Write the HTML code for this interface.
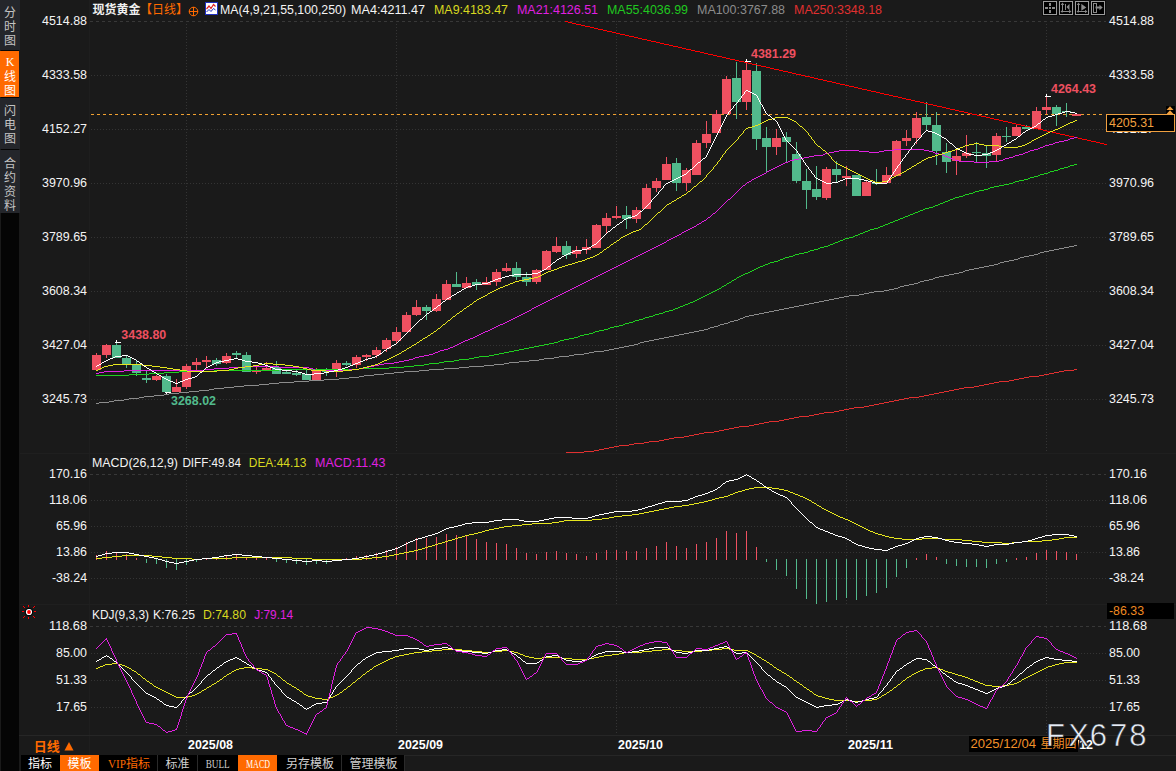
<!DOCTYPE html>
<html><head><meta charset="utf-8"><title>chart</title>
<style>html,body{margin:0;padding:0;background:#1a1a1a;}body{width:1176px;height:771px;overflow:hidden;font-family:"Liberation Sans",sans-serif;}svg{display:block}</style>
</head><body>
<svg width="1176" height="771" viewBox="0 0 1176 771">
<rect x="0" y="0" width="1176" height="771" fill="#1a1a1a"/>
<rect x="1" y="0" width="18" height="771" fill="#050505"/>
<rect x="0" y="0" width="20" height="50" fill="#24262b"/>
<rect x="0" y="51" width="19" height="46" fill="#ff6a00"/>
<rect x="0" y="98" width="20" height="51" fill="#24262b"/>
<rect x="0" y="150" width="20" height="63" fill="#24262b"/>
<text x="4 4 4" y="17.06 31.06 45.06" fill="#c4c4c4" font-size="12" font-family="&quot;Liberation Sans&quot;, &quot;Noto Sans CJK SC&quot;, sans-serif">分时图</text>
<text x="10" y="66" fill="#fff" font-size="12" text-anchor="middle" font-family="Liberation Serif">K</text>
<text x="4 4" y="80.56 94.56" fill="#fff" font-size="12" font-family="&quot;Liberation Sans&quot;, &quot;Noto Sans CJK SC&quot;, sans-serif">线图</text>
<text x="4 4 4" y="114.56 128.56 142.56" fill="#c4c4c4" font-size="12" font-family="&quot;Liberation Sans&quot;, &quot;Noto Sans CJK SC&quot;, sans-serif">闪电图</text>
<text x="4 4 4 4" y="167.56 181.56 195.56 209.56" fill="#c4c4c4" font-size="12" font-family="&quot;Liberation Sans&quot;, &quot;Noto Sans CJK SC&quot;, sans-serif">合约资料</text>
<g shape-rendering="crispEdges">
<rect x="89" y="0" width="1" height="755" fill="#1e1e1e"/>
<rect x="20" y="453" width="1156" height="1" fill="#1f1f1f"/>
<rect x="20" y="604" width="1156" height="1" fill="#1f1f1f"/>
<rect x="19" y="735" width="1157" height="1" fill="#262626"/>
<rect x="405" y="755" width="771" height="1" fill="#262626"/>
<line x1="90" y1="21.5" x2="1106" y2="21.5" stroke="#383838" stroke-width="1" stroke-dasharray="3 3"/>
<line x1="91" y1="75.5" x2="1106" y2="75.5" stroke="#343434" stroke-width="1" stroke-dasharray="1 2"/>
<line x1="91" y1="129.5" x2="1106" y2="129.5" stroke="#343434" stroke-width="1" stroke-dasharray="1 2"/>
<line x1="91" y1="183.5" x2="1106" y2="183.5" stroke="#343434" stroke-width="1" stroke-dasharray="1 2"/>
<line x1="91" y1="237.5" x2="1106" y2="237.5" stroke="#343434" stroke-width="1" stroke-dasharray="1 2"/>
<line x1="91" y1="291.5" x2="1106" y2="291.5" stroke="#343434" stroke-width="1" stroke-dasharray="1 2"/>
<line x1="91" y1="345.5" x2="1106" y2="345.5" stroke="#343434" stroke-width="1" stroke-dasharray="1 2"/>
<line x1="91" y1="399.5" x2="1106" y2="399.5" stroke="#343434" stroke-width="1" stroke-dasharray="1 2"/>
<line x1="90" y1="474.5" x2="1106" y2="474.5" stroke="#383838" stroke-width="1" stroke-dasharray="3 3"/>
<line x1="91" y1="500.5" x2="1106" y2="500.5" stroke="#343434" stroke-width="1" stroke-dasharray="1 2"/>
<line x1="91" y1="526.5" x2="1106" y2="526.5" stroke="#343434" stroke-width="1" stroke-dasharray="1 2"/>
<line x1="91" y1="552.5" x2="1106" y2="552.5" stroke="#343434" stroke-width="1" stroke-dasharray="1 2"/>
<line x1="91" y1="578.5" x2="1106" y2="578.5" stroke="#343434" stroke-width="1" stroke-dasharray="1 2"/>
<line x1="90" y1="626.5" x2="1106" y2="626.5" stroke="#383838" stroke-width="1" stroke-dasharray="3 3"/>
<line x1="91" y1="653.5" x2="1106" y2="653.5" stroke="#343434" stroke-width="1" stroke-dasharray="1 2"/>
<line x1="91" y1="680.5" x2="1106" y2="680.5" stroke="#343434" stroke-width="1" stroke-dasharray="1 2"/>
<line x1="91" y1="707.5" x2="1106" y2="707.5" stroke="#343434" stroke-width="1" stroke-dasharray="1 2"/>
<line x1="186.5" y1="21" x2="186.5" y2="453" stroke="#343434" stroke-width="1" stroke-dasharray="1 2"/>
<line x1="186.5" y1="474" x2="186.5" y2="604" stroke="#343434" stroke-width="1" stroke-dasharray="1 2"/>
<line x1="186.5" y1="627" x2="186.5" y2="735" stroke="#343434" stroke-width="1" stroke-dasharray="1 2"/>
<line x1="396.5" y1="21" x2="396.5" y2="453" stroke="#343434" stroke-width="1" stroke-dasharray="1 2"/>
<line x1="396.5" y1="474" x2="396.5" y2="604" stroke="#343434" stroke-width="1" stroke-dasharray="1 2"/>
<line x1="396.5" y1="627" x2="396.5" y2="735" stroke="#343434" stroke-width="1" stroke-dasharray="1 2"/>
<line x1="616.5" y1="21" x2="616.5" y2="453" stroke="#343434" stroke-width="1" stroke-dasharray="1 2"/>
<line x1="616.5" y1="474" x2="616.5" y2="604" stroke="#343434" stroke-width="1" stroke-dasharray="1 2"/>
<line x1="616.5" y1="627" x2="616.5" y2="735" stroke="#343434" stroke-width="1" stroke-dasharray="1 2"/>
<line x1="846.5" y1="21" x2="846.5" y2="453" stroke="#343434" stroke-width="1" stroke-dasharray="1 2"/>
<line x1="846.5" y1="474" x2="846.5" y2="604" stroke="#343434" stroke-width="1" stroke-dasharray="1 2"/>
<line x1="846.5" y1="627" x2="846.5" y2="735" stroke="#343434" stroke-width="1" stroke-dasharray="1 2"/>
<line x1="1046.5" y1="21" x2="1046.5" y2="453" stroke="#343434" stroke-width="1" stroke-dasharray="1 2"/>
<line x1="1046.5" y1="474" x2="1046.5" y2="604" stroke="#343434" stroke-width="1" stroke-dasharray="1 2"/>
<line x1="1046.5" y1="627" x2="1046.5" y2="735" stroke="#343434" stroke-width="1" stroke-dasharray="1 2"/>
<line x1="91" y1="114.5" x2="1105" y2="114.5" stroke="#f0a030" stroke-width="1" stroke-dasharray="3 3"/>
</g>
<g shape-rendering="crispEdges">
<rect x="96" y="353" width="1" height="17" fill="#ee5060"/>
<rect x="92" y="355" width="9" height="15" fill="#ee5060"/>
<rect x="106" y="344" width="1" height="14" fill="#ee5060"/>
<rect x="102" y="345" width="9" height="10" fill="#ee5060"/>
<rect x="116" y="341" width="1" height="17" fill="#52ba8c"/>
<rect x="112" y="345" width="9" height="13" fill="#52ba8c"/>
<rect x="126" y="356" width="1" height="12" fill="#52ba8c"/>
<rect x="122" y="358" width="9" height="6" fill="#52ba8c"/>
<rect x="136" y="361" width="1" height="15" fill="#52ba8c"/>
<rect x="132" y="364" width="9" height="9" fill="#52ba8c"/>
<rect x="146" y="371" width="1" height="12" fill="#52ba8c"/>
<rect x="142" y="378" width="9" height="2" fill="#52ba8c"/>
<rect x="156" y="375" width="1" height="6" fill="#ee5060"/>
<rect x="152" y="376" width="9" height="4" fill="#ee5060"/>
<rect x="166" y="374" width="1" height="20" fill="#52ba8c"/>
<rect x="162" y="376" width="9" height="16" fill="#52ba8c"/>
<rect x="176" y="379" width="1" height="13" fill="#ee5060"/>
<rect x="172" y="387" width="9" height="5" fill="#ee5060"/>
<rect x="186" y="364" width="1" height="25" fill="#ee5060"/>
<rect x="182" y="366" width="9" height="21" fill="#ee5060"/>
<rect x="196" y="358" width="1" height="12" fill="#ee5060"/>
<rect x="192" y="362" width="9" height="3" fill="#ee5060"/>
<rect x="206" y="356" width="1" height="12" fill="#ee5060"/>
<rect x="202" y="360" width="9" height="2" fill="#ee5060"/>
<rect x="216" y="358" width="1" height="8" fill="#52ba8c"/>
<rect x="212" y="360" width="9" height="4" fill="#52ba8c"/>
<rect x="226" y="353" width="1" height="11" fill="#ee5060"/>
<rect x="222" y="356" width="9" height="7" fill="#ee5060"/>
<rect x="236" y="351" width="1" height="8" fill="#52ba8c"/>
<rect x="232" y="353" width="9" height="2" fill="#52ba8c"/>
<rect x="246" y="352" width="1" height="20" fill="#52ba8c"/>
<rect x="242" y="355" width="9" height="17" fill="#52ba8c"/>
<rect x="256" y="366" width="1" height="8" fill="#ee5060"/>
<rect x="252" y="370" width="9" height="2" fill="#ee5060"/>
<rect x="266" y="362" width="1" height="9" fill="#ee5060"/>
<rect x="262" y="368" width="9" height="2" fill="#ee5060"/>
<rect x="276" y="361" width="1" height="13" fill="#52ba8c"/>
<rect x="272" y="367" width="9" height="7" fill="#52ba8c"/>
<rect x="286" y="371" width="1" height="3" fill="#52ba8c"/>
<rect x="282" y="372" width="9" height="2" fill="#52ba8c"/>
<rect x="296" y="370" width="1" height="6" fill="#52ba8c"/>
<rect x="292" y="373" width="9" height="2" fill="#52ba8c"/>
<rect x="306" y="370" width="1" height="10" fill="#52ba8c"/>
<rect x="302" y="374" width="9" height="6" fill="#52ba8c"/>
<rect x="316" y="368" width="1" height="12" fill="#ee5060"/>
<rect x="312" y="370" width="9" height="10" fill="#ee5060"/>
<rect x="326" y="368" width="1" height="8" fill="#52ba8c"/>
<rect x="322" y="371" width="9" height="1" fill="#52ba8c"/>
<rect x="336" y="360" width="1" height="17" fill="#ee5060"/>
<rect x="332" y="363" width="9" height="9" fill="#ee5060"/>
<rect x="346" y="361" width="1" height="5" fill="#52ba8c"/>
<rect x="342" y="363" width="9" height="2" fill="#52ba8c"/>
<rect x="356" y="355" width="1" height="13" fill="#ee5060"/>
<rect x="352" y="357" width="9" height="8" fill="#ee5060"/>
<rect x="366" y="354" width="1" height="7" fill="#ee5060"/>
<rect x="362" y="355" width="9" height="2" fill="#ee5060"/>
<rect x="376" y="347" width="1" height="11" fill="#ee5060"/>
<rect x="372" y="350" width="9" height="5" fill="#ee5060"/>
<rect x="386" y="338" width="1" height="14" fill="#ee5060"/>
<rect x="382" y="340" width="9" height="9" fill="#ee5060"/>
<rect x="396" y="327" width="1" height="16" fill="#ee5060"/>
<rect x="392" y="332" width="9" height="9" fill="#ee5060"/>
<rect x="406" y="312" width="1" height="20" fill="#ee5060"/>
<rect x="402" y="315" width="9" height="17" fill="#ee5060"/>
<rect x="416" y="300" width="1" height="16" fill="#ee5060"/>
<rect x="412" y="307" width="9" height="8" fill="#ee5060"/>
<rect x="426" y="305" width="1" height="15" fill="#52ba8c"/>
<rect x="422" y="307" width="9" height="4" fill="#52ba8c"/>
<rect x="436" y="294" width="1" height="18" fill="#ee5060"/>
<rect x="432" y="299" width="9" height="12" fill="#ee5060"/>
<rect x="446" y="280" width="1" height="20" fill="#ee5060"/>
<rect x="442" y="284" width="9" height="16" fill="#ee5060"/>
<rect x="456" y="272" width="1" height="15" fill="#52ba8c"/>
<rect x="452" y="284" width="9" height="3" fill="#52ba8c"/>
<rect x="466" y="277" width="1" height="11" fill="#ee5060"/>
<rect x="462" y="283" width="9" height="5" fill="#ee5060"/>
<rect x="476" y="279" width="1" height="11" fill="#52ba8c"/>
<rect x="472" y="282" width="9" height="3" fill="#52ba8c"/>
<rect x="486" y="277" width="1" height="8" fill="#ee5060"/>
<rect x="482" y="282" width="9" height="3" fill="#ee5060"/>
<rect x="496" y="269" width="1" height="17" fill="#ee5060"/>
<rect x="492" y="272" width="9" height="10" fill="#ee5060"/>
<rect x="506" y="263" width="1" height="9" fill="#ee5060"/>
<rect x="502" y="268" width="9" height="3" fill="#ee5060"/>
<rect x="516" y="262" width="1" height="18" fill="#52ba8c"/>
<rect x="512" y="268" width="9" height="9" fill="#52ba8c"/>
<rect x="526" y="272" width="1" height="14" fill="#52ba8c"/>
<rect x="522" y="277" width="9" height="5" fill="#52ba8c"/>
<rect x="536" y="269" width="1" height="15" fill="#ee5060"/>
<rect x="532" y="270" width="9" height="12" fill="#ee5060"/>
<rect x="546" y="250" width="1" height="20" fill="#ee5060"/>
<rect x="542" y="251" width="9" height="19" fill="#ee5060"/>
<rect x="556" y="237" width="1" height="16" fill="#ee5060"/>
<rect x="552" y="246" width="9" height="6" fill="#ee5060"/>
<rect x="566" y="241" width="1" height="18" fill="#52ba8c"/>
<rect x="562" y="246" width="9" height="9" fill="#52ba8c"/>
<rect x="576" y="246" width="1" height="12" fill="#ee5060"/>
<rect x="572" y="250" width="9" height="4" fill="#ee5060"/>
<rect x="586" y="239" width="1" height="15" fill="#ee5060"/>
<rect x="582" y="247" width="9" height="3" fill="#ee5060"/>
<rect x="596" y="224" width="1" height="24" fill="#ee5060"/>
<rect x="592" y="225" width="9" height="23" fill="#ee5060"/>
<rect x="606" y="213" width="1" height="21" fill="#ee5060"/>
<rect x="602" y="218" width="9" height="8" fill="#ee5060"/>
<rect x="616" y="206" width="1" height="13" fill="#ee5060"/>
<rect x="612" y="216" width="9" height="2" fill="#ee5060"/>
<rect x="626" y="206" width="1" height="23" fill="#52ba8c"/>
<rect x="622" y="215" width="9" height="4" fill="#52ba8c"/>
<rect x="636" y="207" width="1" height="16" fill="#ee5060"/>
<rect x="632" y="210" width="9" height="9" fill="#ee5060"/>
<rect x="646" y="184" width="1" height="25" fill="#ee5060"/>
<rect x="642" y="188" width="9" height="21" fill="#ee5060"/>
<rect x="656" y="178" width="1" height="14" fill="#ee5060"/>
<rect x="652" y="181" width="9" height="7" fill="#ee5060"/>
<rect x="666" y="157" width="1" height="23" fill="#ee5060"/>
<rect x="662" y="164" width="9" height="16" fill="#ee5060"/>
<rect x="676" y="158" width="1" height="33" fill="#52ba8c"/>
<rect x="672" y="163" width="9" height="20" fill="#52ba8c"/>
<rect x="686" y="168" width="1" height="23" fill="#ee5060"/>
<rect x="682" y="170" width="9" height="13" fill="#ee5060"/>
<rect x="696" y="140" width="1" height="35" fill="#ee5060"/>
<rect x="692" y="143" width="9" height="32" fill="#ee5060"/>
<rect x="706" y="121" width="1" height="27" fill="#ee5060"/>
<rect x="702" y="134" width="9" height="9" fill="#ee5060"/>
<rect x="716" y="110" width="1" height="23" fill="#ee5060"/>
<rect x="712" y="114" width="9" height="19" fill="#ee5060"/>
<rect x="726" y="76" width="1" height="38" fill="#ee5060"/>
<rect x="722" y="79" width="9" height="35" fill="#ee5060"/>
<rect x="736" y="62" width="1" height="57" fill="#52ba8c"/>
<rect x="732" y="78" width="9" height="24" fill="#52ba8c"/>
<rect x="746" y="59" width="1" height="51" fill="#ee5060"/>
<rect x="742" y="70" width="9" height="32" fill="#ee5060"/>
<rect x="756" y="63" width="1" height="87" fill="#52ba8c"/>
<rect x="752" y="71" width="9" height="68" fill="#52ba8c"/>
<rect x="766" y="127" width="1" height="45" fill="#52ba8c"/>
<rect x="762" y="138" width="9" height="9" fill="#52ba8c"/>
<rect x="776" y="129" width="1" height="26" fill="#ee5060"/>
<rect x="772" y="138" width="9" height="9" fill="#ee5060"/>
<rect x="786" y="132" width="1" height="30" fill="#52ba8c"/>
<rect x="782" y="137" width="9" height="5" fill="#52ba8c"/>
<rect x="796" y="142" width="1" height="41" fill="#52ba8c"/>
<rect x="792" y="154" width="9" height="27" fill="#52ba8c"/>
<rect x="806" y="169" width="1" height="40" fill="#52ba8c"/>
<rect x="802" y="181" width="9" height="9" fill="#52ba8c"/>
<rect x="816" y="166" width="1" height="34" fill="#52ba8c"/>
<rect x="812" y="189" width="9" height="8" fill="#52ba8c"/>
<rect x="826" y="167" width="1" height="33" fill="#ee5060"/>
<rect x="822" y="169" width="9" height="29" fill="#ee5060"/>
<rect x="836" y="161" width="1" height="21" fill="#52ba8c"/>
<rect x="832" y="169" width="9" height="6" fill="#52ba8c"/>
<rect x="846" y="166" width="1" height="20" fill="#ee5060"/>
<rect x="842" y="176" width="9" height="2" fill="#ee5060"/>
<rect x="856" y="175" width="1" height="21" fill="#52ba8c"/>
<rect x="852" y="175" width="9" height="21" fill="#52ba8c"/>
<rect x="866" y="180" width="1" height="16" fill="#ee5060"/>
<rect x="862" y="182" width="9" height="14" fill="#ee5060"/>
<rect x="876" y="169" width="1" height="16" fill="#52ba8c"/>
<rect x="872" y="182" width="9" height="2" fill="#52ba8c"/>
<rect x="886" y="167" width="1" height="16" fill="#ee5060"/>
<rect x="882" y="175" width="9" height="8" fill="#ee5060"/>
<rect x="896" y="140" width="1" height="36" fill="#ee5060"/>
<rect x="892" y="141" width="9" height="35" fill="#ee5060"/>
<rect x="906" y="130" width="1" height="16" fill="#ee5060"/>
<rect x="902" y="138" width="9" height="3" fill="#ee5060"/>
<rect x="916" y="112" width="1" height="32" fill="#ee5060"/>
<rect x="912" y="118" width="9" height="20" fill="#ee5060"/>
<rect x="926" y="102" width="1" height="29" fill="#52ba8c"/>
<rect x="922" y="117" width="9" height="8" fill="#52ba8c"/>
<rect x="936" y="112" width="1" height="53" fill="#52ba8c"/>
<rect x="932" y="125" width="9" height="26" fill="#52ba8c"/>
<rect x="946" y="143" width="1" height="30" fill="#52ba8c"/>
<rect x="942" y="152" width="9" height="10" fill="#52ba8c"/>
<rect x="956" y="150" width="1" height="25" fill="#ee5060"/>
<rect x="952" y="156" width="9" height="5" fill="#ee5060"/>
<rect x="966" y="135" width="1" height="23" fill="#ee5060"/>
<rect x="962" y="153" width="9" height="3" fill="#ee5060"/>
<rect x="976" y="142" width="1" height="21" fill="#52ba8c"/>
<rect x="972" y="152" width="9" height="1" fill="#52ba8c"/>
<rect x="986" y="146" width="1" height="22" fill="#52ba8c"/>
<rect x="982" y="153" width="9" height="3" fill="#52ba8c"/>
<rect x="996" y="133" width="1" height="29" fill="#ee5060"/>
<rect x="992" y="136" width="9" height="19" fill="#ee5060"/>
<rect x="1006" y="127" width="1" height="15" fill="#52ba8c"/>
<rect x="1002" y="136" width="9" height="1" fill="#52ba8c"/>
<rect x="1016" y="124" width="1" height="12" fill="#ee5060"/>
<rect x="1012" y="127" width="9" height="9" fill="#ee5060"/>
<rect x="1026" y="125" width="1" height="4" fill="#52ba8c"/>
<rect x="1022" y="127" width="9" height="2" fill="#52ba8c"/>
<rect x="1036" y="107" width="1" height="22" fill="#ee5060"/>
<rect x="1032" y="111" width="9" height="18" fill="#ee5060"/>
<rect x="1046" y="94" width="1" height="20" fill="#ee5060"/>
<rect x="1042" y="107" width="9" height="3" fill="#ee5060"/>
<rect x="1056" y="105" width="1" height="21" fill="#52ba8c"/>
<rect x="1052" y="107" width="9" height="7" fill="#52ba8c"/>
<rect x="1066" y="103" width="1" height="14" fill="#52ba8c"/>
<rect x="1062" y="111" width="9" height="1" fill="#52ba8c"/>
<rect x="1076" y="114" width="1" height="2" fill="#ee5060"/>
<rect x="1072" y="114" width="9" height="2" fill="#ee5060"/>
<rect x="116" y="340" width="1" height="3" fill="#fff"/>
<rect x="115" y="342" width="6" height="1" fill="#fff"/>
<rect x="166" y="392" width="1" height="3" fill="#fff"/>
<rect x="165" y="392" width="6" height="1" fill="#fff"/>
<rect x="746" y="59" width="1" height="3" fill="#fff"/>
<rect x="745" y="61" width="6" height="1" fill="#fff"/>
<rect x="1046" y="94" width="1" height="3" fill="#fff"/>
<rect x="1045" y="96" width="6" height="1" fill="#fff"/>
<rect x="96" y="555" width="1" height="5" fill="#ee5060"/>
<rect x="106" y="551" width="1" height="9" fill="#ee5060"/>
<rect x="116" y="552" width="1" height="8" fill="#ee5060"/>
<rect x="126" y="554" width="1" height="6" fill="#ee5060"/>
<rect x="136" y="558" width="1" height="2" fill="#ee5060"/>
<rect x="146" y="559" width="1" height="4" fill="#52ba8c"/>
<rect x="156" y="559" width="1" height="5" fill="#52ba8c"/>
<rect x="166" y="559" width="1" height="9" fill="#52ba8c"/>
<rect x="176" y="559" width="1" height="11" fill="#52ba8c"/>
<rect x="186" y="559" width="1" height="6" fill="#52ba8c"/>
<rect x="196" y="559" width="1" height="3" fill="#52ba8c"/>
<rect x="206" y="558" width="1" height="2" fill="#ee5060"/>
<rect x="216" y="557" width="1" height="3" fill="#ee5060"/>
<rect x="226" y="555" width="1" height="5" fill="#ee5060"/>
<rect x="236" y="554" width="1" height="6" fill="#ee5060"/>
<rect x="246" y="557" width="1" height="3" fill="#ee5060"/>
<rect x="256" y="558" width="1" height="2" fill="#ee5060"/>
<rect x="266" y="558" width="1" height="2" fill="#ee5060"/>
<rect x="276" y="559" width="1" height="3" fill="#52ba8c"/>
<rect x="286" y="559" width="1" height="4" fill="#52ba8c"/>
<rect x="296" y="559" width="1" height="5" fill="#52ba8c"/>
<rect x="306" y="559" width="1" height="6" fill="#52ba8c"/>
<rect x="316" y="559" width="1" height="5" fill="#52ba8c"/>
<rect x="326" y="559" width="1" height="5" fill="#52ba8c"/>
<rect x="336" y="559" width="1" height="2" fill="#52ba8c"/>
<rect x="346" y="558" width="1" height="2" fill="#ee5060"/>
<rect x="356" y="556" width="1" height="4" fill="#ee5060"/>
<rect x="366" y="555" width="1" height="5" fill="#ee5060"/>
<rect x="376" y="553" width="1" height="7" fill="#ee5060"/>
<rect x="386" y="550" width="1" height="10" fill="#ee5060"/>
<rect x="396" y="547" width="1" height="13" fill="#ee5060"/>
<rect x="406" y="542" width="1" height="18" fill="#ee5060"/>
<rect x="416" y="538" width="1" height="22" fill="#ee5060"/>
<rect x="426" y="538" width="1" height="22" fill="#ee5060"/>
<rect x="436" y="537" width="1" height="23" fill="#ee5060"/>
<rect x="446" y="534" width="1" height="26" fill="#ee5060"/>
<rect x="456" y="535" width="1" height="25" fill="#ee5060"/>
<rect x="466" y="536" width="1" height="24" fill="#ee5060"/>
<rect x="476" y="539" width="1" height="21" fill="#ee5060"/>
<rect x="486" y="542" width="1" height="18" fill="#ee5060"/>
<rect x="496" y="543" width="1" height="17" fill="#ee5060"/>
<rect x="506" y="544" width="1" height="16" fill="#ee5060"/>
<rect x="516" y="548" width="1" height="12" fill="#ee5060"/>
<rect x="526" y="553" width="1" height="7" fill="#ee5060"/>
<rect x="536" y="554" width="1" height="6" fill="#ee5060"/>
<rect x="546" y="552" width="1" height="8" fill="#ee5060"/>
<rect x="556" y="551" width="1" height="9" fill="#ee5060"/>
<rect x="566" y="553" width="1" height="7" fill="#ee5060"/>
<rect x="576" y="554" width="1" height="6" fill="#ee5060"/>
<rect x="586" y="556" width="1" height="4" fill="#ee5060"/>
<rect x="596" y="553" width="1" height="7" fill="#ee5060"/>
<rect x="606" y="550" width="1" height="10" fill="#ee5060"/>
<rect x="616" y="550" width="1" height="10" fill="#ee5060"/>
<rect x="626" y="551" width="1" height="9" fill="#ee5060"/>
<rect x="636" y="551" width="1" height="9" fill="#ee5060"/>
<rect x="646" y="548" width="1" height="12" fill="#ee5060"/>
<rect x="656" y="546" width="1" height="14" fill="#ee5060"/>
<rect x="666" y="542" width="1" height="18" fill="#ee5060"/>
<rect x="676" y="546" width="1" height="14" fill="#ee5060"/>
<rect x="686" y="548" width="1" height="12" fill="#ee5060"/>
<rect x="696" y="544" width="1" height="16" fill="#ee5060"/>
<rect x="706" y="542" width="1" height="18" fill="#ee5060"/>
<rect x="716" y="538" width="1" height="22" fill="#ee5060"/>
<rect x="726" y="531" width="1" height="29" fill="#ee5060"/>
<rect x="736" y="533" width="1" height="27" fill="#ee5060"/>
<rect x="746" y="531" width="1" height="29" fill="#ee5060"/>
<rect x="756" y="547" width="1" height="13" fill="#ee5060"/>
<rect x="766" y="559" width="1" height="3" fill="#52ba8c"/>
<rect x="776" y="559" width="1" height="11" fill="#52ba8c"/>
<rect x="786" y="559" width="1" height="17" fill="#52ba8c"/>
<rect x="796" y="559" width="1" height="30" fill="#52ba8c"/>
<rect x="806" y="559" width="1" height="40" fill="#52ba8c"/>
<rect x="816" y="559" width="1" height="45" fill="#52ba8c"/>
<rect x="826" y="559" width="1" height="43" fill="#52ba8c"/>
<rect x="836" y="559" width="1" height="41" fill="#52ba8c"/>
<rect x="846" y="559" width="1" height="39" fill="#52ba8c"/>
<rect x="856" y="559" width="1" height="41" fill="#52ba8c"/>
<rect x="866" y="559" width="1" height="37" fill="#52ba8c"/>
<rect x="876" y="559" width="1" height="34" fill="#52ba8c"/>
<rect x="886" y="559" width="1" height="29" fill="#52ba8c"/>
<rect x="896" y="559" width="1" height="18" fill="#52ba8c"/>
<rect x="906" y="559" width="1" height="9" fill="#52ba8c"/>
<rect x="916" y="558" width="1" height="2" fill="#ee5060"/>
<rect x="926" y="554" width="1" height="6" fill="#ee5060"/>
<rect x="936" y="557" width="1" height="3" fill="#ee5060"/>
<rect x="946" y="559" width="1" height="5" fill="#52ba8c"/>
<rect x="956" y="559" width="1" height="7" fill="#52ba8c"/>
<rect x="966" y="559" width="1" height="8" fill="#52ba8c"/>
<rect x="976" y="559" width="1" height="8" fill="#52ba8c"/>
<rect x="986" y="559" width="1" height="9" fill="#52ba8c"/>
<rect x="996" y="559" width="1" height="5" fill="#52ba8c"/>
<rect x="1006" y="559" width="1" height="3" fill="#52ba8c"/>
<rect x="1016" y="558" width="1" height="2" fill="#ee5060"/>
<rect x="1026" y="557" width="1" height="3" fill="#ee5060"/>
<rect x="1036" y="553" width="1" height="7" fill="#ee5060"/>
<rect x="1046" y="550" width="1" height="10" fill="#ee5060"/>
<rect x="1056" y="551" width="1" height="9" fill="#ee5060"/>
<rect x="1066" y="552" width="1" height="8" fill="#ee5060"/>
<rect x="1076" y="554" width="1" height="6" fill="#ee5060"/>
</g>
<g stroke="#ff0000" stroke-width="1" fill="none" shape-rendering="crispEdges">
<path transform="translate(0,.5)" d="m565 21h3m0 1h4m0 1h4m0 1h5m0 1h4m0 1h5m0 1h4m0 1h4m0 1h5m0 1h4m0 1h5m0 1h4m0 1h4m0 1h5m0 1h4m0 1h5m0 1h4m0 1h4m0 1h5m0 1h4m0 1h5m0 1h4m0 1h4m0 1h5m0 1h4m0 1h5m0 1h4m0 1h4m0 1h5m0 1h4m0 1h5m0 1h4m0 1h4m0 1h5m0 1h4m0 1h5m0 1h4m0 1h4m0 1h5m0 1h4m0 1h5m0 1h4m0 1h4m0 1h5m0 1h4m0 1h5m0 1h4m0 1h4m0 1h5m0 1h4m0 1h5m0 1h4m0 1h4m0 1h5m0 1h4m0 1h5m0 1h4m0 1h4m0 1h5m0 1h4m0 1h5m0 1h4m0 1h4m0 1h5m0 1h4m0 1h5m0 1h4m0 1h4m0 1h5m0 1h4m0 1h5m0 1h4m0 1h4m0 1h5m0 1h4m0 1h5m0 1h4m0 1h4m0 1h5m0 1h4m0 1h5m0 1h4m0 1h4m0 1h5m0 1h4m0 1h5m0 1h4m0 1h4m0 1h5m0 1h4m0 1h5m0 1h4m0 1h4m0 1h5m0 1h4m0 1h5m0 1h4m0 1h4m0 1h5m0 1h4m0 1h5m0 1h4m0 1h4m0 1h5m0 1h4m0 1h5m0 1h4m0 1h4m0 1h5m0 1h4m0 1h5m0 1h4m0 1h4m0 1h5m0 1h4m0 1h5m0 1h4m0 1h4m0 1h5m0 1h4m0 1h5m0 1h4m0 1h4m0 1h3"/>
</g>
<g stroke="#e03030" stroke-width="1" fill="none" shape-rendering="crispEdges">
<path transform="translate(0,.5)" d="m566 452h18m0-1h10m0-1h5m0-1h5m0-1h5m0-1h5m0-1h5m0-1h10m0-1h5m0-1h10m0-1h5m0-1h10m0-1h5m0-1h5m0-1h5m0-1h10m0-1h5m0-1h5m0-1h5m0-1h5m0-1h10m0-1h5m0-1h5m0-1h5m0-1h5m0-1h5m0-1h10m0-1h5m0-1h5m0-1h5m0-1h5m0-1h10m0-1h5m0-1h5m0-1h5m0-1h5m0-1h10m0-1h5m0-1h5m0-1h5m0-1h10m0-1h5m0-1h5m0-1h5m0-1h5m0-1h10m0-1h5m0-1h5m0-1h5m0-1h5m0-1h5m0-1h5m0-1h5m0-1h5m0-1h5m0-1h10m0-1h5m0-1h5m0-1h5m0-1h5m0-1h5m0-1h5m0-1h5m0-1h5m0-1h5m0-1h10m0-1h5m0-1h5m0-1h5m0-1h5m0-1h5m0-1h10m0-1h5m0-1h5m0-1h5m0-1h5m0-1h10m0-1h5m0-1h5m0-1h5m0-1h5m0-1h5m0-1h10m0-1h3"/>
</g>
<g stroke="#8c8c8c" stroke-width="1" fill="none" shape-rendering="crispEdges">
<path transform="translate(0,.5)" d="m96 403h3m0-1h10m0-1h5m0-1h10m0-1h5m0-1h10m0-1h5m0-1h10m0-1h10m0-1h5m0-1h10m0-1h10m0-1h10m0-1h10m0-1h5m0-1h10m0-1h10m0-1h10m0-1h15m0-1h10m0-1h10m0-1h15m0-1h15m0-1h15m0-1h15m0-1h10m0-1h10m0-1h5m0-1h10m0-1h10m0-1h10m0-1h10m0-1h15m0-1h10m0-1h15m0-1h15m0-1h10m0-1h15m0-1h10m0-1h10m0-1h5m0-1h10m0-1h10m0-1h10m0-1h5m0-1h10m0-1h5m0-1h10m0-1h5m0-1h10m0-1h5m0-1h5m0-1h10m0-1h5m0-1h5m0-1h5m0-1h5m0-1h5m0-1h5m0-1h4m0-1h2m0-1h4m0-1h5m0-1h5m0-1h5m0-1h5m0-1h5m0-1h5m0-1h5m0-1h5m0-1h5m0-1h5m0-1h5m0-1h5m0-1h4m0-1h2m0-1h4m0-1h4m0-1h2m0-1h4m0-1h4m0-1h2m0-1h4m0-1h4m0-1h2m0-1h3m0-1h2m0-1h4m0-1h5m0-1h5m0-1h5m0-1h5m0-1h5m0-1h5m0-1h5m0-1h5m0-1h5m0-1h5m0-1h5m0-1h5m0-1h5m0-1h5m0-1h5m0-1h5m0-1h5m0-1h5m0-1h5m0-1h5m0-1h10m0-1h5m0-1h5m0-1h5m0-1h10m0-1h5m0-1h5m0-1h4m0-1h2m0-1h4m0-1h5m0-1h5m0-1h4m0-1h2m0-1h4m0-1h5m0-1h4m0-1h2m0-1h4m0-1h5m0-1h5m0-1h5m0-1h5m0-1h4m0-1h2m0-1h4m0-1h5m0-1h5m0-1h5m0-1h5m0-1h5m0-1h4m0-1h2m0-1h4m0-1h5m0-1h5m0-1h4m0-1h2m0-1h4m0-1h5m0-1h5m0-1h4m0-1h2m0-1h4m0-1h5m0-1h5m0-1h5m0-1h5m0-1h5m0-1h5m0-1h3"/>
</g>
<g stroke="#20d020" stroke-width="1" fill="none" shape-rendering="crispEdges">
<path transform="translate(0,.5)" d="m96 375h33m0-1h20m0-1h15m0-1h15m0-1h35m0-1h65m0-1h80m0-1h30m0-1h15m0-1h10m0-1h10m0-1h5m0-1h10m0-1h5m0-1h10m0-1h5m0-1h10m0-1h5m0-1h5m0-1h10m0-1h5m0-1h5m0-1h5m0-1h5m0-1h5m0-1h5m0-1h5m0-1h5m0-1h5m0-1h5m0-1h5m0-1h5m0-1h5m0-1h4m0-1h2m0-1h4m0-1h5m0-1h5m0-1h4m0-1h2m0-1h4m0-1h5m0-1h4m0-1h2m0-1h4m0-1h5m0-1h4m0-1h2m0-1h4m0-1h5m0-1h4m0-1h2m0-1h4m0-1h4m0-1h2m0-1h4m0-1h4m0-1h2m0-1h4m0-1h4m0-1h2m0-1h4m0-1h4m0-1h2m0-1h4m0-1h4m0-1h2m0-1h3m0-1h2m0-1h3m0-1h2m0-1h3m0-1h2m0-1h3m0-1h2m0-1h2m0-1h2m0-1h2m0-1h2m0-1h2m0-1h2m0-1h2m0-1h2m0-1h2m0-1h2m0-1h2m0-1h2m0-1h2m1-2h2m0-1h2m1-2h2m0-1h2m1-2h2m0-1h2m1-2h2m0-1h2m0-1h2m0-1h2m0-1h3m0-1h2m0-1h2m0-1h2m0-1h2m0-1h2m0-1h2m0-1h3m0-1h2m0-1h3m0-1h2m0-1h4m0-1h4m0-1h2m0-1h3m0-1h2m0-1h4m0-1h4m0-1h2m0-1h4m0-1h5m0-1h4m0-1h2m0-1h4m0-1h4m0-1h2m0-1h4m0-1h4m0-1h2m0-1h3m0-1h2m0-1h3m0-1h2m0-1h3m0-1h2m0-1h4m0-1h4m0-1h2m0-1h3m0-1h2m0-1h3m0-1h2m0-1h3m0-1h2m0-1h4m0-1h4m0-1h2m0-1h3m0-1h2m0-1h3m0-1h2m0-1h3m0-1h2m0-1h3m0-1h2m0-1h3m0-1h2m0-1h3m0-1h2m0-1h3m0-1h2m0-1h3m0-1h2m0-1h3m0-1h2m0-1h4m0-1h4m0-1h2m0-1h3m0-1h2m0-1h3m0-1h2m0-1h3m0-1h2m0-1h3m0-1h2m0-1h4m0-1h4m0-1h2m0-1h4m0-1h4m0-1h2m0-1h4m0-1h5m0-1h4m0-1h2m0-1h4m0-1h5m0-1h5m0-1h5m0-1h4m0-1h2m0-1h4m0-1h5m0-1h4m0-1h2m0-1h4m0-1h4m0-1h2m0-1h4m0-1h4m0-1h2m0-1h4m0-1h4m0-1h2m0-1h4m0-1h4m0-1h2m0-1h4m0-1h3"/>
<path transform="translate(.5,0)" d="m721 287v1m5-4v1m5-4v1m5-4v1"/>
</g>
<g stroke="#e020e0" stroke-width="1" fill="none" shape-rendering="crispEdges">
<path transform="translate(0,.5)" d="m96 373h3m0-1h5m0-1h20m0-1h80m0-1h10m0-1h15m0-1h15m0-1h35m0 1h30m0 1h4m0 1h2m0 1h34m0-1h10m0-1h5m0-1h5m0-1h5m0-1h5m0-1h5m0-1h10m0-1h5m0-1h5m0-1h5m0-1h4m0-1h2m0-1h4m0-1h5m0-1h5m0-1h4m0-1h2m0-1h3m0-1h2m0-1h4m0-1h4m0-1h2m0-1h3m0-1h2m0-1h2m0-1h2m0-1h2m0-1h2m0-1h2m0-1h3m0-1h2m0-1h3m0-1h2m0-1h2m0-1h2m0-1h2m0-1h2m0-1h2m0-1h3m0-1h2m0-1h2m0-1h2m0-1h2m0-1h2m0-1h2m0-1h3m0-1h2m0-1h2m0-1h2m0-1h2m0-1h2m0-1h2m0-1h2m0-1h2m0-1h2m0-1h2m0-1h2m0-1h2m0-1h2m0-1h2m1-2h2m0-1h2m0-1h2m0-1h2m0-1h2m0-1h2m0-1h2m0-1h2m0-1h2m0-1h2m0-1h2m0-1h2m0-1h2m0-1h2m0-1h2m0-1h2m0-1h2m0-1h2m0-1h2m0-1h2m0-1h2m0-1h2m0-1h2m0-1h2m0-1h2m0-1h2m0-1h2m0-1h2m0-1h2m0-1h2m0-1h2m0-1h2m0-1h2m0-1h2m0-1h2m0-1h2m0-1h2m0-1h2m0-1h2m0-1h2m0-1h2m0-1h2m0-1h2m0-1h2m0-1h2m0-1h2m0-1h2m0-1h2m0-1h2m0-1h2m0-1h2m0-1h2m0-1h2m0-1h2m0-1h2m0-1h2m0-1h2m0-1h2m0-1h2m0-1h2m0-1h2m0-1h2m0-1h2m0-1h2m0-1h2m0-1h2m0-1h2m1-2h2m0-1h2m0-1h2m0-1h2m0-1h2m0-1h2m0-1h2m1-2h2m0-1h2m0-1h2m0-1h2m0-1h2m0-1h2m0-1h2m1-2h2m0-1h2m1-2h2m0-1h2m2-3h2m3-4h2m13-14h2m13-14h2m2-3h2m0-1h2m1-2h2m0-1h2m0-1h2m0-1h2m0-1h2m0-1h2m0-1h2m1-2h2m0-1h2m0-1h2m0-1h2m0-1h2m0-1h2m0-1h2m0-1h2m0-1h2m0-1h3m0-1h2m0-1h4m0-1h5m0-1h5m0-1h5m0-1h5m0-1h9m0-1h2m0-1h4m0-1h5m0-1h5m0-1h20m0 1h10m0 1h10m0-1h5m0-1h10m0-1h30m0 1h5m0 1h4m0 1h2m0 1h4m0 1h4m0 1h2m0 1h3m0 1h2m0 1h3m0 1h2m0 1h4m0 1h15m0 1h15m0-1h10m0-1h4m0-1h2m0-1h4m0-1h4m0-1h2m0-1h4m0-1h4m0-1h2m0-1h3m0-1h2m0-1h4m0-1h4m0-1h2m0-1h3m0-1h2m0-1h4m0-1h4m0-1h2m0-1h4m0-1h5m0-1h4m0-1h2m0-1h4m0-1h3"/>
<path transform="translate(.5,0)" d="m531 309v1m135-69v1m15-9v1m15-9v1m5-4v1m5-4v1m1-2v1m3-3v1m1-2v1m1-2v1m3-3v1m1-2v1m1-2v1m1-2v1m1-2v1m1-2v1m1-2v1m1-2v1m1-2v1m1-2v1m1-2v1m1-2v1m1-2v1m3-3v1m1-2v1m1-2v1m1-2v1m1-2v1m1-2v1m1-2v1m1-2v1m1-2v1m1-2v1m1-2v1m1-2v1m1-2v1m3-3v1m1-2v1m5-4v1m15-9v1"/>
</g>
<g stroke="#e6e61e" stroke-width="1" fill="none" shape-rendering="crispEdges">
<path transform="translate(0,.5)" d="m96 370h2m0-1h2m0-1h2m0-1h2m0-1h4m0-1h5m0-1h29m0 1h10m0 1h8m0 1h7m0 1h6m0 1h7m0 1h7m0 1h30m0-1h12m0-1h5m0-1h4m0-1h7m0-1h8m0-1h6m0-1h5m0-1h9m0 1h12m0 1h8m0 1h6m0 1h4m0 1h4m0 1h4m0 1h15m0 1h17m0-1h9m0-1h7m0-1h4m0-1h4m0-1h4m0-1h4m0-1h3m0-1h2m0-1h2m0-1h2m0-1h3m0-1h2m0-1h2m0-1h2m0-1h2m0-1h2m0-1h2m0-1h2m1-2h2m0-1h2m1-2h2m0-1h2m1-2h2m0-1h2m1-2h2m1-2h2m1-2h2m0-1h2m1-2h2m1-2h2m1-2h2m2-3h2m3-4h2m3-4h2m3-4h2m2-3h2m1-2h2m2-3h2m1-2h2m1-2h2m2-3h2m1-2h2m0-1h2m0-1h2m0-1h2m0-1h2m1-2h2m0-1h2m0-1h2m0-1h2m0-1h2m0-1h2m0-1h3m0-1h2m0-1h3m0-1h2m0-1h3m0-1h2m0-1h4m0-1h5m0-1h5m0-1h5m0-1h4m0-1h2m0-1h2m0-1h2m0-1h2m0-1h2m0-1h3m0-1h3m0-1h3m0-1h2m0-1h3m0-1h3m0-1h3m0-1h4m0-1h3m0-1h3m0-1h4m0-1h3m0-1h2m0-1h3m0-1h3m0-1h2m0-1h2m0-1h2m1-2h2m2-3h2m1-2h2m2-3h2m1-2h2m1-2h2m2-3h2m0-1h2m0-1h2m0-1h2m0-1h2m0-1h2m0-1h3m0-1h3m0-1h2m4-5h2m11-12h2m7-8h2m0-1h2m1-2h2m0-1h2m1-2h2m0-1h2m1-2h2m0-1h2m2-3h2m4-5h2m4-5h2m44-53h2m0-1h4m0-1h3m0-1h3m0-1h2m0-1h2m0-1h2m0-1h2m0-1h2m0-1h4m0-1h3m0-1h13m0 1h2m0 1h2m0 1h2m0 1h2m4 5h2m16 20h2m3 4h2m11 13h2m0 1h2m0 1h2m0 1h2m0 1h2m0 1h2m0 1h2m0 1h2m0 1h2m0 1h2m0 1h2m0 1h2m0 1h2m0 1h2m0 1h2m0 1h2m0 1h2m0 1h3m0 1h2m0 1h7m0-1h5m0-1h2m0-1h2m1-2h2m0-1h2m0-1h2m0-1h2m0-1h2m0-1h2m0-1h2m1-2h2m0-1h2m1-2h2m0-1h2m1-2h2m0-1h2m1-2h2m0-1h2m0-1h2m0-1h4m0-1h3m0-1h3m0-1h4m0-1h3m0-1h3m0-1h4m0-1h3m0-1h3m0-1h2m0-1h3m0-1h2m0-1h4m0-1h5m0-1h5m0 1h5m0 1h15m0 1h5m0 1h14m0-1h4m0-1h3m0-1h2m0-1h2m0-1h2m1-2h2m0-1h2m0-1h2m0-1h2m0-1h2m0-1h2m0-1h2m0-1h2m0-1h2m0-1h3m0-1h2m0-1h3m0-1h2m0-1h2m0-1h2m0-1h2m0-1h2m0-1h2m0-1h3m0-1h2m0-1h2"/>
<path transform="translate(.5,0)" d="m401 352v1m5-4v1m5-4v1m5-4v1m3-3v1m3-3v1m5-4v1m3-3v1m3-3v1m3-3v1m1-2v1m3-3v1m1-2v1m1-2v1m3-3v1m1-2v1m1-2v1m3-3v1m1-2v1m1-2v1m3-3v1m1-2v1m3-3v1m3-3v1m1-2v1m3-3v1m3-3v1m3-3v1m1-2v1m3-3v1m11-7v1m112-42v1m3-3v1m1-2v1m3-3v1m3-3v1m1-2v1m3-3v1m3-3v1m3-3v1m1-2v1m21-11v1m1-2v1m1-2v1m1-2v1m3-3v1m1-2v1m1-2v1m1-2v1m1-2v1m1-2v1m1-2v1m1-2v1m1-2v1m1-2v1m1-2v1m3-3v1m1-2v1m1-2v1m1-2v1m1-2v1m1-2v1m1-2v1m5-4v1m5-4v1m5-4v1m5-4v1m1-2v1m3-3v1m1-2v1m1-2v1m1-2v1m3-3v1m1-2v1m1-2v1m1-2v1m3-3v1m1-2v1m1-2v1m1-2v1m1-3v2m1-3v1m1-2v1m1-2v1m1-2v1m1-2v1m1-2v1m1-3v2m1-3v1m1-2v1m1-2v1m1-3v2m1-3v1m1-2v1m1-3v2m1-3v1m1-3v2m1-3v1m1-2v1m1-3v2m1-3v1m1-2v1m1-2v1m1-2v1m1-2v1m1-2v1m1-2v1m1-2v1m1-2v1m1-2v1m1-2v1m1-2v1m1-3v2m1-3v1m1-2v1m1-2v1m1-2v1m1-3v2m1-3v1m1-2v1m51-8v1m1 0v1m1 0v1m1 0v1m3 1v1m1 0v1m1 0v1m1 0v1m1 0v1m1 0v1m1 0v2m1 0v1m1 0v1m1 0v2m1 0v1m1 0v1m1 0v2m1 0v1m1 0v1m1 0v1m3 1v1m1 0v1m1 0v1m3 1v1m1 0v1m1 0v1m1 0v1m1 0v1m1 0v1m1 0v2m1 0v1m1 0v1m1 0v1m1 0v1m56 15v1m15-9v1m5-4v1m5-4v1m5-4v1m110-21v1"/>
</g>
<g stroke="#ffffff" stroke-width="1" fill="none" shape-rendering="crispEdges">
<path transform="translate(0,.5)" d="m97 365h2m0-1h2m1-2h2m0-1h2m0-1h2m0-1h2m0-1h3m0-1h2m0-1h7m0-1h6m0 1h2m0 1h2m0 1h2m0 1h2m1 2h2m1 2h2m2 3h2m1 2h2m0 1h2m1 2h2m0 1h2m1 2h2m0 1h2m1 2h2m0 1h2m0 1h2m0 1h2m0 1h3m0 1h2m0 1h3m0-1h2m0-1h3m0-1h2m0-1h3m0-1h4m0-1h3m0-1h2m3-4h2m4-5h2m0-1h2m0-1h2m0-1h2m0-1h2m0-1h3m0-1h5m0-1h5m0-1h5m0-1h4m0 1h4m0 1h3m0 1h7m0 1h6m0 1h4m0 1h3m0 1h3m0 1h2m0 1h3m0 1h2m0 1h7m0 1h10m0 1h6m0 1h4m0 1h3m0 1h9m0-1h10m0-1h5m0-1h5m0-1h4m0-1h4m0-1h3m0-1h3m0-1h2m0-1h3m0-1h2m0-1h3m0-1h2m0-1h3m0-1h2m0-1h3m0-1h4m0-1h3m0-1h2m0-1h2m1-2h2m2-3h2m1-2h2m0-1h2m1-2h2m0-1h2m24-25h2m5-6h2m1-2h2m2-3h2m2-3h2m3-4h2m2-3h2m0-1h2m1-2h2m0-1h2m1-2h2m0-1h2m1-2h2m0-1h2m0-1h2m0-1h4m0-1h3m0-1h7m0-1h6m0-1h2m0-1h3m0-1h2m0-1h3m0-1h4m0-1h3m0-1h4m0-1h5m0-1h18m0-1h6m0-1h2m0-1h2m0-1h2m0-1h2m2-3h2m3-4h2m2-3h2m0-1h2m1-2h2m0-1h2m0-1h2m0-1h2m0-1h3m0-1h2m0-1h7m0-1h5m0-1h2m0-1h2m1-2h2m0-1h2m12-13h2m3-4h2m2-3h2m1-2h2m2-3h2m0-1h2m0-1h4m0-1h3m0-1h2m3-4h2m24-28h2m0-1h2m0-1h2m0-1h2m0-1h2m0-1h2m0-1h2m0-1h2m0-1h2m0-1h2m4-5h2m6-7h2m3-4h2m41-68h2m0 1h2m0 1h2m0 1h2m0 1h2m12 21h2m3 4h2m41 59h2m0 1h2m0 1h2m0 1h2m0 1h2m0 1h6m0-1h6m0-1h2m0-1h3m0-1h2m0-1h14m0 1h5m0 1h4m0 1h4m0 1h3m0 1h12m39-53h2m0 1h4m0 1h3m0 1h2m0 1h2m0 1h2m1 2h2m0 1h2m4 5h2m4 5h2m0 1h2m0 1h2m0 1h2m0 1h2m0 1h3m0 1h5m0 1h8m0-1h6m0-1h2m0-1h3m0-1h2m0-1h2m0-1h2m0-1h2m1-2h2m0-1h2m1-2h2m0-1h2m1-2h2m0-1h2m2-3h2m3-4h2m1-2h2m0-1h2m0-1h2m0-1h2m0-1h2m2-3h2m3-4h2m1-2h2m0-1h4m0-1h3m0-1h3m0-1h4m0-1h3m0-1h5m0 1h5m0 1h2"/>
<path transform="translate(.5,0)" d="m96 366v1m5-4v1m35-4v1m3 1v1m3 1v1m1 0v1m3 1v1m5 2v1m5 2v1m5 2v1m36-2v1m1-2v1m1-2v1m3-3v1m1-2v1m1-2v1m1-2v1m174-15v1m3-3v1m1-2v1m3-3v1m5-4v1m5-4v1m1-2v1m1-2v1m1-2v1m1-2v1m1-2v1m1-2v1m1-2v1m1-2v1m1-2v1m1-2v1m1-2v1m1-2v1m1-2v1m1-2v1m1-2v1m1-2v1m1-2v1m1-2v1m1-2v1m1-2v1m1-2v1m1-2v1m1-2v1m3-3v1m1-2v1m1-2v1m1-2v1m1-2v1m3-3v1m3-3v1m1-2v1m3-3v1m1-2v1m3-3v1m1-2v1m1-2v1m3-3v1m1-2v1m5-4v1m5-4v1m5-4v1m85-23v1m1-2v1m3-3v1m1-2v1m1-2v1m3-3v1m1-2v1m5-4v1m30-12v1m5-4v1m1-2v1m1-2v1m1-2v1m1-2v1m1-2v1m1-2v1m1-2v1m1-2v1m1-2v1m1-2v1m1-2v1m3-3v1m1-2v1m1-2v1m3-3v1m1-2v1m3-3v1m3-3v1m1-2v1m14-7v1m1-2v1m1-2v1m3-3v1m1-2v1m1-2v1m1-2v1m1-2v1m1-2v1m1-2v1m1-2v1m1-2v1m1-3v2m1-3v1m1-2v1m1-2v1m1-2v1m1-2v1m1-2v1m1-3v2m1-3v1m1-2v1m1-2v1m1-2v1m1-3v2m1-3v1m1-2v1m21-12v1m1-2v1m1-2v1m1-2v1m3-3v1m1-2v1m1-2v1m1-2v1m1-2v1m1-2v1m3-3v1m1-2v1m1-2v1m3-3v1m1-3v2m1-4v2m1-4v2m1-4v2m1-4v2m1-4v2m1-4v2m1-4v2m1-4v2m1-4v2m1-4v2m1-4v2m1-4v2m1-4v2m1-4v2m1-4v2m1-4v2m1-4v2m1-4v2m1-4v2m1-4v2m1-3v1m1-3v2m1-3v1m1-2v1m1-2v1m1-2v1m1-3v2m1-3v1m1-2v1m1-2v1m1-2v1m1-3v2m1-3v1m1-2v1m1-3v2m1-3v1m1-2v1m1-3v2m1-3v1m11 3v1m1 0v2m1 0v2m1 0v2m1 0v2m1 0v1m1 0v2m1 0v2m1 0v2m1 0v2m1 0v1m1 0v1m3 1v1m1 0v1m1 0v1m3 1v1m1 0v1m1 0v2m1 0v2m1 0v2m1 0v2m1 0v2m1 0v2m1 0v2m1 0v2m1 0v2m1 0v1m1 0v1m1 0v1m1 0v1m1 0v1m1 0v1m1 0v1m1 0v1m1 0v1m1 0v1m1 0v1m1 0v2m1 0v1m1 0v2m1 0v1m1 0v2m1 0v1m1 0v2m1 0v1m1 0v2m1 0v1m1 0v1m1 0v2m1 0v1m1 0v1m1 0v2m1 0v1m1 0v1m1 0v2m1 0v1m72 3v2m1-3v1m1-3v2m1-3v1m1-3v2m1-3v1m1-3v2m1-3v1m1-3v2m1-3v1m1-3v2m1-3v1m1-2v1m1-3v2m1-3v1m1-3v2m1-3v1m1-2v1m1-3v2m1-3v1m1-2v1m1-3v2m1-3v1m1-2v1m1-3v2m1-3v1m1-2v1m1-3v2m1-3v1m1-2v1m1-2v1m1-2v1m1-2v1m1-2v1m1-3v2m1-3v1m1-2v1m1-2v1m1-2v1m16 4v1m5 2v1m1 0v1m1 0v1m1 0v1m3 1v1m1 0v1m1 0v1m1 0v1m46-1v1m5-4v1m5-4v1m5-4v1m1-2v1m3-3v1m1-2v1m1-2v1m3-3v1m11-7v1m1-2v1m3-3v1m1-2v1m1-2v1m3-3v1"/>
</g>
<g stroke="#e6e61e" stroke-width="1" fill="none" shape-rendering="crispEdges">
<path transform="translate(0,.5)" d="m96 558h6m0-1h10m0-1h10m0-1h30m0 1h10m0 1h10m0 1h20m0 1h10m0-1h30m0-1h60m0 1h20m0 1h50m0-1h10m0-1h10m0-1h7m0-1h5m0-1h5m0-1h5m0-1h5m0-1h5m0-1h4m0-1h4m0-1h3m0-1h3m0-1h4m0-1h3m0-1h3m0-1h4m0-1h3m0-1h3m0-1h4m0-1h3m0-1h3m0-1h4m0-1h3m0-1h4m0-1h5m0-1h4m0-1h4m0-1h3m0-1h4m0-1h5m0-1h5m0-1h5m0-1h8m0-1h10m0-1h10m0-1h20m0-1h7m0-1h5m0-1h28m0-1h10m0-1h7m0-1h5m0-1h8m0-1h10m0-1h7m0-1h5m0-1h5m0-1h5m0-1h5m0-1h5m0-1h5m0-1h5m0-1h8m0-1h7m0-1h5m0-1h5m0-1h5m0-1h4m0-1h4m0-1h3m0-1h4m0-1h5m0-1h4m0-1h2m0-1h3m0-1h2m0-1h3m0-1h4m0-1h3m0-1h4m0-1h5m0-1h18m0 1h7m0 1h5m0 1h4m0 1h2m0 1h3m0 1h2m0 1h3m0 1h2m0 1h3m0 1h2m0 1h2m0 1h2m0 1h2m1 2h2m0 1h2m1 2h2m0 1h2m1 2h2m0 1h2m0 1h2m0 1h2m0 1h2m0 1h2m0 1h2m0 1h2m0 1h2m0 1h3m0 1h2m0 1h3m0 1h2m0 1h2m0 1h2m0 1h2m0 1h2m0 1h2m0 1h2m0 1h2m0 1h2m0 1h2m0 1h2m0 1h3m0 1h2m0 1h3m0 1h4m0 1h3m0 1h4m0 1h5m0 1h8m0 1h20m0-1h20m0 1h20m0 1h10m0 1h10m0 1h20m0 1h10m0-1h10m0-1h20m0-1h10m0-1h7m0-1h5m0-1h13"/>
<path transform="translate(.5,0)" d="m811 501v1m5 2v1m5 2v1"/>
</g>
<g stroke="#ffffff" stroke-width="1" fill="none" shape-rendering="crispEdges">
<path transform="translate(0,.5)" d="m96 556h2m0-1h4m0-1h3m0-1h7m0-1h17m0 1h5m0 1h5m0 1h5m0 1h5m0 1h5m0 1h4m0 1h4m0 1h3m0 1h4m0 1h5m0 1h5m0-1h5m0-1h5m0-1h5m0-1h8m0-1h10m0-1h7m0-1h5m0-1h8m0-1h10m0 1h10m0 1h10m0 1h10m0 1h10m0 1h10m0 1h10m0 1h10m0-1h10m0 1h10m0-1h10m0-1h10m0-1h7m0-1h5m0-1h5m0-1h5m0-1h4m0-1h4m0-1h3m0-1h3m0-1h4m0-1h3m0-1h3m0-1h2m0-1h2m0-1h2m0-1h2m0-1h2m0-1h2m0-1h3m0-1h2m0-1h3m0-1h4m0-1h3m0-1h3m0-1h4m0-1h3m0-1h3m0-1h2m0-1h2m0-1h2m0-1h2m0-1h3m0-1h5m0-1h4m0-1h4m0-1h3m0-1h7m0-1h17m0-1h5m0-1h8m0-1h17m0 1h5m0 1h15m0-1h5m0-1h5m0-1h5m0-1h18m0 1h16m0-1h4m0-1h3m0-1h4m0-1h5m0-1h5m0-1h5m0-1h18m0-1h6m0-1h4m0-1h3m0-1h3m0-1h4m0-1h3m0-1h3m0-1h4m0-1h3m0-1h17m0-1h6m0-1h2m0-1h3m0-1h2m0-1h3m0-1h4m0-1h3m0-1h3m0-1h2m0-1h3m0-1h2m0-1h2m1-2h2m3-4h2m1-2h3m0-1h5m0-1h4m0-1h2m0-1h2m0-1h2m0-1h2m1 0h2m0 1h2m1 2h2m0 1h2m1 2h2m1 2h2m2 3h2m1 2h2m0 1h2m1 2h2m0 1h2m0 1h2m0 1h2m0 1h3m0 1h2m0 1h2m23 25h2m4 5h2m0 1h2m0 1h3m0 1h2m0 1h3m0 1h2m0 1h3m0 1h2m0 1h3m0 1h4m0 1h3m0 1h2m0 1h2m0 1h2m1 2h2m0 1h2m0 1h2m0 1h4m0 1h3m0 1h4m0 1h5m0 1h8m0 1h6m0-1h2m0-1h3m0-1h2m0-1h3m0-1h4m0-1h3m0-1h3m0-1h2m0-1h2m0-1h2m0-1h2m0-1h3m0-1h5m0-1h8m0 1h6m0 1h4m0 1h3m0 1h4m0 1h5m0 1h8m0 1h10m0 1h7m0 1h5m0 1h5m0-1h5m0-1h15m0-1h5m0-1h8m0-1h6m0-1h4m0-1h3m0-1h3m0-1h4m0-1h3m0-1h7m0-1h17m0 1h5m0 1h3"/>
<path transform="translate(.5,0)" d="m717 488v1m3-3v1m1-2v1m1-2v1m3-3v1m21-9v1m5 2v1m5 2v1m3 1v1m3 1v1m1 0v1m3 1v1m5 2v1m16 7v1m1 0v1m1 0v1m1 0v1m1 0v2m1 0v1m1 0v1m1 0v1m1 0v1m1 0v1m1 0v1m1 0v1m1 0v1m1 0v1m1 0v1m1 0v1m1 0v1m1 0v1m1 0v1m1 0v1m1 0v1m1 0v1m1 0v1m3 1v1m1 0v1m1 0v1m1 0v1m36 14v1"/>
</g>
<g stroke="#e6e61e" stroke-width="1" fill="none" shape-rendering="crispEdges">
<path transform="translate(0,.5)" d="m96 668h2m0-1h2m0-1h3m0-1h2m0-1h7m0-1h6m0 1h4m0 1h3m0 1h2m0 1h2m0 1h2m1 2h2m0 1h2m2 3h2m3 4h2m2 3h2m1 2h2m2 3h2m0 1h2m0 1h2m0 1h2m0 1h2m0 1h2m0 1h2m0 1h2m0 1h2m0 1h2m0 1h2m0 1h12m0-1h4m0-1h3m0-1h2m0-1h2m0-1h2m1-2h2m0-1h2m1-2h2m0-1h2m1-2h2m0-1h2m1-2h2m1-2h2m2-3h2m1-2h2m0-1h2m1-2h2m0-1h2m0-1h3m0-1h5m0-1h8m0 1h10m0 1h6m0 1h2m0 1h2m0 1h2m0 1h2m2 3h2m3 4h2m2 3h2m0 1h2m1 2h2m0 1h2m1 2h2m1 2h2m2 3h2m0 1h2m0 1h4m0 1h3m0 1h7m0 1h6m0-1h2m0-1h3m0-1h2m0-1h2m0-1h2m1-2h2m2-3h2m2-3h2m3-4h2m3-4h2m3-4h2m2-3h2m1-2h2m2-3h2m0-1h2m0-1h2m0-1h2m0-1h2m0-1h2m0-1h2m0-1h2m0-1h3m0-1h2m0-1h4m0-1h5m0-1h5m0-1h5m0-1h8m0-1h10m0-1h10m0-1h20m0 1h10m0 1h10m0 1h10m0-1h10m0-1h7m0 1h5m0 1h4m0 1h2m0 1h3m0 1h2m0 1h4m0 1h5m0 1h8m0-1h20m0 1h10m0 1h17m0-1h5m0-1h5m0-1h5m0-1h8m0-1h7m0-1h5m0-1h18m0-1h10m0-1h10m0-1h10m0 1h10m0 1h20m0-1h10m0-1h10m0-1h7m0 1h5m0 1h14m0 1h2m0 1h2m0 1h2m0 1h2m1 2h2m0 1h2m1 2h2m0 1h2m1 2h2m1 2h2m2 3h2m1 2h2m0 1h2m1 2h2m0 1h2m1 2h2m1 2h2m2 3h2m1 2h2m1 2h2m2 3h2m1 2h2m1 2h2m2 3h2m0 1h2m0 1h4m0 1h3m0 1h4m0 1h5m0 1h18m0 1h10m0-1h10m0-1h5m0-1h2m0-1h2m1-2h2m0-1h2m1-2h2m1-2h2m2-3h2m2-3h2m3-4h2m2-3h2m0-1h2m1-2h2m0-1h2m0-1h2m0-1h2m0-1h3m0-1h2m0-1h7m0-1h6m0 1h2m0 1h3m0 1h2m0 1h3m0 1h4m0 1h3m0 1h3m0 1h4m0 1h3m0 1h3m0 1h2m0 1h3m0 1h2m0 1h3m0 1h2m0 1h3m0 1h2m0 1h7m0 1h10m0-1h7m0-1h5m0-1h3m0-1h2m0-1h2m1-2h2m0-1h2m0-1h2m0-1h2m0-1h2m0-1h2m0-1h2m0-1h2m0-1h2m0-1h2m0-1h2m0-1h2m0-1h2m0-1h4m0-1h3m0-1h4m0-1h5m0-1h13"/>
<path transform="translate(.5,0)" d="m131 669v1m5 2v1m1 0v1m3 1v1m1 0v1m1 0v1m3 1v1m1 0v1m3 1v1m3 1v1m1 0v1m48 5v1m5-4v1m5-4v1m5-4v1m3-3v1m3-3v1m1-2v1m3-3v1m5-4v1m45 1v1m1 0v1m3 1v1m1 0v1m1 0v1m3 1v1m1 0v1m5 2v1m5 2v1m3 1v1m3 1v1m1 0v1m36-1v1m3-3v1m1-2v1m3-3v1m1-2v1m3-3v1m1-2v1m1-2v1m3-3v1m1-2v1m1-2v1m3-3v1m1-2v1m1-2v1m3-3v1m1-2v1m3-3v1m3-3v1m1-2v1m383-13v1m5 2v1m5 2v1m3 1v1m3 1v1m1 0v1m3 1v1m5 2v1m5 2v1m3 1v1m3 1v1m1 0v1m3 1v1m3 1v1m3 1v1m1 0v1m3 1v1m3 1v1m3 1v1m1 0v1m68 2v1m5-4v1m3-3v1m3-3v1m1-2v1m3-3v1m1-2v1m3-3v1m1-2v1m1-2v1m3-3v1m1-2v1m5-4v1m110 4v1"/>
</g>
<g stroke="#ffffff" stroke-width="1" fill="none" shape-rendering="crispEdges">
<path transform="translate(0,.5)" d="m97 660h2m0-1h2m1-2h2m0-1h2m1 0h2m1 2h2m2 3h2m30 32h2m0 1h2m0 1h2m0 1h2m0 1h2m1 2h2m1 2h2m2 3h2m0 1h3m0 1h5m0 1h3m13-15h2m16-18h2m3-4h2m2-3h2m1-2h2m2-3h2m0-1h2m0-1h2m0-1h3m0-1h2m0-1h2m0 1h2m0 1h2m1 2h2m0 1h2m1 2h2m0 1h2m1 2h2m0 1h2m0 1h2m0 1h4m0 1h3m0 1h2m20 25h2m0 1h2m1 2h2m0 1h2m1 2h2m1 2h2m2 3h2m1 0h2m0-1h2m1-2h2m0-1h2m0-1h6m0-1h5m31-39h2m3-4h2m1-2h2m0-1h2m0-1h2m0-1h2m0-1h2m0-1h6m0-1h10m0-1h7m0-1h5m0-1h15m0 1h5m0 1h5m0-1h5m0-1h8m0-1h6m0 1h4m0 1h3m0 1h7m0 1h10m0 1h10m0 1h6m0-1h4m0-1h3m0-1h7m0-1h5m0 1h2m0 1h2m1 2h2m0 1h2m2 3h2m3 4h2m1 2h11m0-1h2m1-2h2m2-3h2m0-1h6m0-1h6m0 1h2m0 1h2m0 1h2m0 1h2m0 1h6m0 1h10m0-1h5m0-1h2m0-1h2m1-2h2m0-1h2m0-1h2m0-1h4m0-1h3m0-1h17m0 1h10m0-1h7m0-1h5m0-1h5m0-1h5m0-1h14m0 1h2m0 1h2m0 1h2m0 1h2m0 1h6m0 1h6m0-1h4m0-1h3m0-1h14m0-1h5m0-1h5m0-1h5m0-1h3m0 1h2m1 2h2m2 3h2m0 1h6m0-1h5m21 23h2m3 4h2m2 3h2m0 1h2m1 2h2m0 1h2m10 11h2m0 1h2m0 1h2m0 1h2m0 1h2m0 1h2m0 1h2m0 1h2m0 1h2m0 1h2m0 1h3m0-1h5m0-1h8m0-1h6m0-1h2m0-1h2m0-1h2m0-1h2m0-1h2m0 1h4m0 1h3m0 1h3m0-1h4m0-1h3m0-1h4m0-1h5m0-1h3m20-27h2m1-2h2m2-3h2m1-2h2m0-1h2m1-2h2m0-1h2m0-1h6m0 1h5m1 2h2m3 4h2m3 4h2m3 4h2m2 3h2m1 2h2m2 3h2m0 1h2m0 1h4m0 1h3m0 1h3m0 1h2m0 1h3m0 1h2m0 1h3m0 1h2m0 1h3m0 1h2m0 1h3m0-1h2m0-1h2m0-1h2m0-1h2m0-1h2m0-1h4m0-1h3m0-1h2m1-2h2m3-4h2m5-6h2m5-6h2m1-2h2m2-3h2m0-1h2m0-1h2m0-1h3m0-1h2m0-1h4m0 1h5m0 1h8m0 1h10m0 1h5"/>
<path transform="translate(.5,0)" d="m96 661v1m5-4v1m5-4v1m3 1v1m3 1v1m1 0v1m3 1v1m1 0v1m1 0v1m1 0v1m1 0v1m1 0v1m1 0v1m1 0v1m1 0v1m1 0v1m1 0v1m1 0v1m1 0v1m1 0v1m1 0v1m1 0v2m1 0v1m1 0v1m1 0v1m1 0v1m1 0v1m1 0v1m1 0v1m1 0v1m1 0v1m1 0v1m1 0v1m1 0v1m1 0v1m1 0v1m11 5v1m3 1v1m3 1v1m1 0v1m14 2v1m1-2v1m1-2v1m1-2v1m1-3v2m1-3v1m1-2v1m1-2v1m1-2v1m1-2v1m1-2v1m1-2v1m1-2v1m3-3v1m1-2v1m1-2v1m1-2v1m1-2v1m1-2v1m1-2v1m1-2v1m1-2v1m1-3v2m1-3v1m1-2v1m1-2v1m1-2v1m1-2v1m1-2v1m3-3v1m1-2v1m1-2v1m3-3v1m1-2v1m3-3v1m3-3v1m1-2v1m18-4v1m5 2v1m5 2v1m16 6v1m1 0v2m1 0v1m1 0v1m1 0v2m1 0v1m1 0v1m1 0v2m1 0v1m1 0v1m1 0v1m1 0v1m1 0v1m1 0v1m1 0v2m1 0v1m1 0v1m1 0v1m1 0v1m1 0v1m5 2v1m5 2v1m3 1v1m3 1v1m1 0v1m3 1v1m5-4v1m16-7v2m1-4v2m1-3v1m1-3v2m1-3v1m1-3v2m1-4v2m1-3v1m1-3v2m1-3v1m1-2v1m1-2v1m1-2v1m1-2v1m1-2v1m1-2v1m1-2v1m1-2v1m1-2v1m1-2v1m1-2v1m1-2v1m1-2v1m1-2v1m1-3v2m1-3v1m1-2v1m1-2v1m1-2v1m1-2v1m1-2v1m3-3v1m1-2v1m1-2v1m3-3v1m146-7v1m5 2v1m1 0v1m3 1v1m1 0v1m1 0v1m3 1v1m14-2v1m3-3v1m1-2v1m48-2v1m138-10v1m3 1v1m1 0v1m14 1v1m1 0v1m1 0v1m1 0v1m1 0v1m1 0v1m1 0v1m1 0v1m1 0v1m1 0v1m1 0v1m1 0v1m1 0v1m1 0v1m1 0v2m1 0v1m1 0v1m1 0v1m1 0v1m1 0v1m1 0v1m3 1v1m1 0v1m1 0v1m3 1v1m1 0v1m5 2v1m5 2v1m1 0v1m1 0v1m1 0v1m1 0v1m1 0v1m1 0v1m1 0v1m1 0v1m1 0v1m82-1v1m1-3v2m1-3v1m1-2v1m1-2v1m1-2v1m1-3v2m1-3v1m1-2v1m1-2v1m1-3v2m1-3v1m1-2v1m1-3v2m1-3v1m1-3v2m1-3v1m1-2v1m1-3v2m1-3v1m3-3v1m3-3v1m1-2v1m3-3v1m5-4v1m16-2v1m3 1v1m1 0v1m1 0v1m3 1v1m1 0v1m1 0v1m3 1v1m1 0v1m1 0v1m3 1v1m1 0v1m3 1v1m3 1v1m1 0v1m54 3v1m3-3v1m1-2v1m1-2v1m3-3v1m1-2v1m1-2v1m1-2v1m1-2v1m3-3v1m1-2v1m1-2v1m1-2v1m1-2v1m3-3v1m3-3v1m1-2v1"/>
</g>
<g stroke="#e020e0" stroke-width="1" fill="none" shape-rendering="crispEdges">
<path transform="translate(0,.5)" d="m105 639h2m39 83h3m0 1h5m0 1h3m1 2h2m3 4h2m1 2h2m0-1h4m0-1h3m0-1h2m31-79h2m3-4h2m11-12h6m0-1h5m20 37h2m0 1h2m1 2h2m0 1h2m20 51h2m0 1h2m0 1h3m0 1h2m0 1h3m0 1h2m0 1h2m0 1h2m0 1h3m10-20h2m1-2h2m2-3h2m30-76h2m0-1h2m0-1h2m0-1h2m0-1h2m0-1h6m0 1h6m0 1h4m0 1h3m0 1h3m0 1h2m0 1h3m0 1h2m0 1h13m0 1h2m0 1h3m0 1h2m0 1h2m0 1h2m1 2h2m2 3h2m0 1h3m0-1h5m0-1h8m0-1h5m1 2h2m3 4h2m1 2h6m0 1h6m0 1h4m0 1h3m0 1h7m0 1h5m1-2h2m3-4h2m1-2h6m0-1h5m20 31h2m1-2h2m2-3h2m10-20h11m9 11h12m0-1h2m0-1h3m0-1h2m0-1h2m9-14h2m0-1h4m0-1h3m0-1h4m0 1h5m0 1h3m0 1h2m1 2h2m2 3h2m0 1h2m0-1h2m0-1h2m0-1h2m0-1h2m0-1h2m0-1h2m0-1h3m0-1h2m0-1h4m0-1h5m0-1h8m0 1h5m9 15h11m3-4h2m4-5h6m0 1h6m0-1h2m0-1h3m0-1h2m0-1h3m0-1h2m0-1h3m0-1h2m0-1h2m10 17h2m1-2h2m2-3h3m23 49h2m4 5h2m0 1h2m0 1h2m0 1h2m0 1h2m10 20h6m0-1h10m0 1h5m9-14h2m0-1h2m0-1h2m0-1h2m0-1h2m14-12h2m6 3h2m3-4h2m2-3h2m0-1h2m1-2h2m0-1h2m22-55h2m3-4h2m1-2h3m0-1h5m0-1h3m39 66h2m0 1h4m0 1h3m0 1h3m0 1h2m0 1h2m0 1h2m0 1h2m0 1h2m0 1h2m0 1h3m0 1h2m0 1h2m13-22h2m34-50h3m0 1h5m0 1h3m9 11h2m0 1h2m0 1h3m0 1h2m0 1h3m0 1h2m0 1h2m0 1h2m0 1h2"/>
<path transform="translate(.5,0)" d="m96 648v1m1-2v1m1-2v1m1-2v1m1-2v1m1-2v1m1-2v1m1-2v1m1-2v1m2-3v1m1 1v2m1 0v2m1 0v2m1 0v2m1 0v3m1 0v2m1 0v2m1 0v2m1 0v2m1 0v3m1 0v2m1 0v2m1 0v2m1 0v2m1 0v2m1 0v2m1 0v2m1 0v2m1 0v2m1 0v2m1 0v2m1 0v2m1 0v2m1 0v2m1 0v3m1 0v2m1 0v2m1 0v2m1 0v2m1 0v3m1 0v2m1 0v2m1 0v2m1 0v2m1 0v2m1 0v2m1 0v2m1 0v2m1 0v2m12 3v1m3 1v1m1 0v1m1 0v1m3 1v1m11-4v1m1-4v3m1-6v3m1-6v3m1-6v3m1-7v4m1-7v3m1-6v3m1-6v3m1-6v3m1-6v3m1-5v2m1-4v2m1-4v2m1-4v2m1-4v2m1-4v2m1-4v2m1-4v2m1-4v2m1-4v2m1-4v2m1-5v3m1-6v3m1-5v2m1-5v3m1-5v2m1-5v3m1-6v3m1-5v2m1-4v2m1-3v1m3-3v1m1-2v1m1-2v1m3-3v1m1-2v1m1-2v1m1-2v1m1-2v1m1-2v1m1-2v1m1-2v1m1-2v1m1-2v1m1-2v1m11-2v1m1 0v2m1 0v3m1 0v2m1 0v2m1 0v3m1 0v2m1 0v3m1 0v2m1 0v2m1 0v2m1 0v1m1 0v2m1 0v1m1 0v1m1 0v1m1 0v1m1 0v2m1 0v1m1 0v1m1 0v1m5 2v1m5 2v2m1 0v3m1 0v4m1 0v3m1 0v3m1 0v4m1 0v3m1 0v3m1 0v4m1 0v3m1 0v2m1 0v2m1 0v2m1 0v1m1 0v2m1 0v2m1 0v2m1 0v1m1 0v2m1 0v2m21 9v1m1-4v2m1-4v2m1-4v2m1-4v2m1-4v2m1-4v2m1-4v2m1-4v2m1-4v2m1-3v1m3-3v1m3-3v1m1-2v1m3-5v3m1-7v4m1-8v4m1-8v4m1-8v4m1-9v5m1-9v4m1-8v4m1-8v4m1-8v4m1-7v3m1-5v2m1-3v1m1-2v1m1-3v2m1-3v1m1-3v2m1-3v1m1-2v1m1-3v2m1-3v1m1-3v2m1-4v2m1-4v2m1-4v2m1-4v2m1-4v2m1-4v2m1-4v2m1-4v2m64 6v1m3 1v1m1 0v1m24-1v1m3 1v1m1 0v1m1 0v1m3 1v1m32 4v1m3-3v1m1-2v1m1-2v1m3-3v1m12-2v1m1 0v2m1 0v1m1 0v1m1 0v2m1 0v1m1 0v1m1 0v2m1 0v1m1 0v1m1 0v2m1 0v2m1 0v2m1 0v2m1 0v2m1 0v2m1 0v2m1 0v2m1 0v2m1 0v1m3-3v1m3-3v1m1-2v1m3-3v1m1-3v2m1-4v2m1-4v2m1-4v2m1-4v2m1-4v2m1-4v2m1-4v2m1-4v2m12-2v1m1 0v1m1 0v1m1 0v1m1 0v2m1 0v1m1 0v1m1 0v1m1 0v1m22-6v2m1-3v1m1-2v1m1-3v2m1-3v1m1-3v2m1-3v1m1-2v1m1-3v2m24-2v1m3 1v1m1 0v1m44-8v2m1 0v1m1 0v2m1 0v1m1 0v2m1 0v1m1 0v2m1 0v1m1 0v2m12-1v1m1-2v1m1-2v1m3-3v1m1-2v1m1-2v1m1-2v1m32-8v2m1 0v2m1 0v2m1 0v2m1 0v1m1 0v2m1 0v2m1 0v2m1 0v2m1 0v1m3-3v1m3-3v1m1-2v1m3-3v1m1 1v3m1 0v3m1 0v2m1 0v3m1 0v3m1 0v3m1 0v3m1 0v2m1 0v3m1 0v2m1 0v2m1 0v2m1 0v2m1 0v2m1 0v1m1 0v2m1 0v2m1 0v2m1 0v2m1 0v1m1 0v1m1 0v1m1 0v1m3 1v1m1 0v1m1 0v1m1 0v1m11 5v1m1 0v2m1 0v2m1 0v2m1 0v2m1 0v2m1 0v2m1 0v2m1 0v2m1 0v2m22-2v2m1-3v1m1-2v1m1-3v2m1-3v1m1-3v2m1-3v1m1-2v1m1-3v2m11-8v1m1-3v2m1-3v1m1-3v2m1-3v1m1-3v2m1-3v1m1-3v2m1-3v1m1-3v2m1-3v1m1 0v1m1 0v1m1 0v1m3 1v1m1 0v1m1 0v1m1 0v1m1 0v1m1-2v1m3-3v1m1-2v1m1-2v1m3-3v1m1-2v1m5-4v1m5-5v2m1-4v2m1-5v3m1-5v2m1-5v3m1-5v2m1-5v3m1-5v2m1-5v3m1-5v2m1-5v3m1-6v3m1-5v2m1-5v3m1-6v3m1-5v2m1-5v3m1-6v3m1-5v2m1-5v3m1-5v2m1-3v1m3-3v1m1-2v1m1-2v1m3-3v1m12-3v1m1 0v1m1 0v1m1 0v1m1 0v2m1 0v1m1 0v1m1 0v1m1 0v1m1 0v2m1 0v2m1 0v3m1 0v2m1 0v2m1 0v3m1 0v2m1 0v3m1 0v2m1 0v2m1 0v3m1 0v2m1 0v2m1 0v2m1 0v2m1 0v2m1 0v2m1 0v2m1 0v2m1 0v2m1 0v2m1 0v1m1 0v1m1 0v1m1 0v1m1 0v1m1 0v1m1 0v1m1 0v1m1 0v1m32 10v2m1-4v2m1-4v2m1-4v2m1-3v1m1-3v2m1-4v2m1-4v2m1-4v2m1-3v1m1-2v1m1-2v1m1-2v1m3-3v1m1-2v1m1-2v1m1-2v1m1-2v1m1-3v2m1-4v2m1-3v1m1-3v2m1-3v1m1-3v2m1-4v2m1-3v1m1-3v2m1-3v1m1-3v2m1-4v2m1-4v2m1-4v2m1-3v1m1-3v2m1-4v2m1-4v2m1-4v2m1-3v1m1-2v1m1-2v1m1-2v1m1-2v1m1-3v2m1-3v1m1-2v1m1-2v1m1-2v1m12 1v1m1 0v1m1 0v1m1 0v1m1 0v2m1 0v1m1 0v1m1 0v1m1 0v1m21 9v1"/>
</g>
<text x="92.5 104.5 116.5 128.5" y="13.56" fill="#f0f0f0" font-size="12" font-weight="bold" font-family="&quot;Liberation Sans&quot;, &quot;Noto Sans CJK SC&quot;, sans-serif">现货黄金</text>
<text x="140 152 164 176" y="13.56" fill="#ff6a00" font-size="12" font-family="&quot;Liberation Sans&quot;, &quot;Noto Sans CJK SC&quot;, sans-serif">【日线】</text>
<g stroke="#ff6a00" stroke-width="1" fill="none"><circle cx="193.5" cy="11.5" r="4.3"/><path d="M189 11.5H198M193.5 7V16"/></g>
<g shape-rendering="crispEdges"><rect x="205" y="2" width="12" height="12" fill="#fff" stroke="#2030c0" stroke-width="1"/></g>
<path d="M206.5 9 L209 6 L211 8.5 L213.5 4.5 L215.5 6.5" stroke="#e02020" stroke-width="1.2" fill="none"/>
<path d="M206.5 12 L209 9.5 L211 11.5 L213.5 8.5 L215.5 10" stroke="#2030c0" stroke-width="1" fill="none"/>
<text x="220" y="14" fill="#f4f4f4" font-size="12.5" font-family="Liberation Sans" textLength="126" lengthAdjust="spacingAndGlyphs">MA(4,9,21,55,100,250)</text>
<text x="351" y="14" fill="#f4f4f4" font-size="12.5" font-family="Liberation Sans" textLength="74" lengthAdjust="spacingAndGlyphs">MA4:4211.47</text>
<text x="434" y="14" fill="#d8d820" font-size="12.5" font-family="Liberation Sans" textLength="74" lengthAdjust="spacingAndGlyphs">MA9:4183.47</text>
<text x="517" y="14" fill="#e020e0" font-size="12.5" font-family="Liberation Sans" textLength="81" lengthAdjust="spacingAndGlyphs">MA21:4126.51</text>
<text x="607" y="14" fill="#20c820" font-size="12.5" font-family="Liberation Sans" textLength="81" lengthAdjust="spacingAndGlyphs">MA55:4036.99</text>
<text x="697" y="14" fill="#8c8c8c" font-size="12.5" font-family="Liberation Sans" textLength="88" lengthAdjust="spacingAndGlyphs">MA100:3767.88</text>
<text x="794" y="14" fill="#e03030" font-size="12.5" font-family="Liberation Sans" textLength="88" lengthAdjust="spacingAndGlyphs">MA250:3348.18</text>
<rect x="1042" y="0" width="64" height="16" fill="#0c0c0c"/>
<rect x="1043.5" y="1.5" width="13" height="13" fill="#000" stroke="#9c9c9c" stroke-width="1" shape-rendering="crispEdges"/>
<rect x="1059.5" y="1.5" width="13" height="13" fill="#000" stroke="#9c9c9c" stroke-width="1" shape-rendering="crispEdges"/>
<rect x="1075.5" y="1.5" width="13" height="13" fill="#000" stroke="#9c9c9c" stroke-width="1" shape-rendering="crispEdges"/>
<rect x="1091.5" y="1.5" width="13" height="13" fill="#000" stroke="#9c9c9c" stroke-width="1" shape-rendering="crispEdges"/>
<g fill="#8a8a8a" shape-rendering="crispEdges">
<rect x="1045" y="7" width="3" height="2" fill="#8a8a8a"/>
<rect x="1052" y="7" width="3" height="2" fill="#8a8a8a"/>
<rect x="1049" y="3" width="2" height="3" fill="#8a8a8a"/>
<rect x="1049" y="10" width="2" height="3" fill="#8a8a8a"/>
<rect x="1049" y="7" width="2" height="2" fill="#8a8a8a"/>
</g>
<g fill="#8a8a8a" stroke="none">
<path d="M1062 4h1v8h-1z M1061.5 11h8.5v1h-8.5z M1062.5 2.5l1.8 2.5h-3.6z M1071.5 11.5l-2.5 1.8v-3.6z M1060.5 11.5l2 -1.6v3.2z"/>
<path d="M1065 4h1v6h-1z M1066.5 7l3 -3.2v6.4z"/>
<path d="M1078 4h1v8h-1z M1077.5 11h8.5v1h-8.5z M1078.5 2.5l1.8 2.5h-3.6z M1087.5 11.5l-2.5 1.8v-3.6z M1076.5 11.5l2 -1.6v3.2z"/>
<path d="M1081.3 3.8l5 3.6l-5 3.4z"/>
<path d="M1093 3h4v10h-4z M1094 4v8h2v-8z" fill-rule="evenodd"/>
<path d="M1095.5 6.5h4.5v2h-4.5z M1099.5 4.8l3.2 2.7l-3.2 2.7z"/>
</g>
<text x="42" y="25" fill="#f4f4f4" font-size="12.5" font-family="Liberation Sans" textLength="45" lengthAdjust="spacingAndGlyphs">4514.88</text>
<text x="1109" y="25" fill="#f4f4f4" font-size="12.5" font-family="Liberation Sans" textLength="45" lengthAdjust="spacingAndGlyphs">4514.88</text>
<text x="42" y="79" fill="#f4f4f4" font-size="12.5" font-family="Liberation Sans" textLength="45" lengthAdjust="spacingAndGlyphs">4333.58</text>
<text x="1109" y="79" fill="#f4f4f4" font-size="12.5" font-family="Liberation Sans" textLength="45" lengthAdjust="spacingAndGlyphs">4333.58</text>
<text x="42" y="133" fill="#f4f4f4" font-size="12.5" font-family="Liberation Sans" textLength="45" lengthAdjust="spacingAndGlyphs">4152.27</text>
<text x="1109" y="133" fill="#f4f4f4" font-size="12.5" font-family="Liberation Sans" textLength="45" lengthAdjust="spacingAndGlyphs">4152.27</text>
<text x="42" y="187" fill="#f4f4f4" font-size="12.5" font-family="Liberation Sans" textLength="45" lengthAdjust="spacingAndGlyphs">3970.96</text>
<text x="1109" y="187" fill="#f4f4f4" font-size="12.5" font-family="Liberation Sans" textLength="45" lengthAdjust="spacingAndGlyphs">3970.96</text>
<text x="42" y="241" fill="#f4f4f4" font-size="12.5" font-family="Liberation Sans" textLength="45" lengthAdjust="spacingAndGlyphs">3789.65</text>
<text x="1109" y="241" fill="#f4f4f4" font-size="12.5" font-family="Liberation Sans" textLength="45" lengthAdjust="spacingAndGlyphs">3789.65</text>
<text x="42" y="295" fill="#f4f4f4" font-size="12.5" font-family="Liberation Sans" textLength="45" lengthAdjust="spacingAndGlyphs">3608.34</text>
<text x="1109" y="295" fill="#f4f4f4" font-size="12.5" font-family="Liberation Sans" textLength="45" lengthAdjust="spacingAndGlyphs">3608.34</text>
<text x="42" y="349" fill="#f4f4f4" font-size="12.5" font-family="Liberation Sans" textLength="45" lengthAdjust="spacingAndGlyphs">3427.04</text>
<text x="1109" y="349" fill="#f4f4f4" font-size="12.5" font-family="Liberation Sans" textLength="45" lengthAdjust="spacingAndGlyphs">3427.04</text>
<text x="42" y="403" fill="#f4f4f4" font-size="12.5" font-family="Liberation Sans" textLength="45" lengthAdjust="spacingAndGlyphs">3245.73</text>
<text x="1109" y="403" fill="#f4f4f4" font-size="12.5" font-family="Liberation Sans" textLength="45" lengthAdjust="spacingAndGlyphs">3245.73</text>
<text x="49" y="478" fill="#f4f4f4" font-size="12.5" font-family="Liberation Sans" textLength="38" lengthAdjust="spacingAndGlyphs">170.16</text>
<text x="1109" y="478" fill="#f4f4f4" font-size="12.5" font-family="Liberation Sans" textLength="38" lengthAdjust="spacingAndGlyphs">170.16</text>
<text x="49" y="504" fill="#f4f4f4" font-size="12.5" font-family="Liberation Sans" textLength="38" lengthAdjust="spacingAndGlyphs">118.06</text>
<text x="1109" y="504" fill="#f4f4f4" font-size="12.5" font-family="Liberation Sans" textLength="38" lengthAdjust="spacingAndGlyphs">118.06</text>
<text x="56" y="530" fill="#f4f4f4" font-size="12.5" font-family="Liberation Sans" textLength="31" lengthAdjust="spacingAndGlyphs">65.96</text>
<text x="1109" y="530" fill="#f4f4f4" font-size="12.5" font-family="Liberation Sans" textLength="31" lengthAdjust="spacingAndGlyphs">65.96</text>
<text x="56" y="556" fill="#f4f4f4" font-size="12.5" font-family="Liberation Sans" textLength="31" lengthAdjust="spacingAndGlyphs">13.86</text>
<text x="1109" y="556" fill="#f4f4f4" font-size="12.5" font-family="Liberation Sans" textLength="31" lengthAdjust="spacingAndGlyphs">13.86</text>
<text x="52" y="582" fill="#f4f4f4" font-size="12.5" font-family="Liberation Sans" textLength="35" lengthAdjust="spacingAndGlyphs">-38.24</text>
<text x="1109" y="582" fill="#f4f4f4" font-size="12.5" font-family="Liberation Sans" textLength="35" lengthAdjust="spacingAndGlyphs">-38.24</text>
<text x="49" y="630" fill="#f4f4f4" font-size="12.5" font-family="Liberation Sans" textLength="38" lengthAdjust="spacingAndGlyphs">118.68</text>
<text x="1109" y="630" fill="#f4f4f4" font-size="12.5" font-family="Liberation Sans" textLength="38" lengthAdjust="spacingAndGlyphs">118.68</text>
<text x="56" y="657" fill="#f4f4f4" font-size="12.5" font-family="Liberation Sans" textLength="31" lengthAdjust="spacingAndGlyphs">85.00</text>
<text x="1109" y="657" fill="#f4f4f4" font-size="12.5" font-family="Liberation Sans" textLength="31" lengthAdjust="spacingAndGlyphs">85.00</text>
<text x="56" y="684" fill="#f4f4f4" font-size="12.5" font-family="Liberation Sans" textLength="31" lengthAdjust="spacingAndGlyphs">51.33</text>
<text x="1109" y="684" fill="#f4f4f4" font-size="12.5" font-family="Liberation Sans" textLength="31" lengthAdjust="spacingAndGlyphs">51.33</text>
<text x="56" y="711" fill="#f4f4f4" font-size="12.5" font-family="Liberation Sans" textLength="31" lengthAdjust="spacingAndGlyphs">17.65</text>
<text x="1109" y="711" fill="#f4f4f4" font-size="12.5" font-family="Liberation Sans" textLength="31" lengthAdjust="spacingAndGlyphs">17.65</text>
<g shape-rendering="crispEdges">
<rect x="1166" y="106" width="9" height="8" fill="#000"/>
<rect x="1106.5" y="114.5" width="68" height="17" fill="#000" stroke="#f0a040" stroke-width="1"/>
</g>
<path d="M1166.5 110 L1170 106.3 L1173.5 110Z M1166.5 114 L1170 110.3 L1173.5 114Z" fill="#f0a040"/>
<text x="1109" y="127" fill="#f0a040" font-size="12.5" font-family="Liberation Sans" textLength="45" lengthAdjust="spacingAndGlyphs">4205.31</text>
<rect x="1107" y="603" width="67" height="16" fill="#000"/>
<text x="1109" y="615" fill="#f08a20" font-size="12.5" font-family="Liberation Sans" textLength="35" lengthAdjust="spacingAndGlyphs">-86.33</text>
<text x="121.3" y="339" fill="#ee5060" font-size="12.5" font-weight="bold" font-family="Liberation Sans" textLength="45" lengthAdjust="spacingAndGlyphs">3438.80</text>
<text x="171" y="405" fill="#52ba8c" font-size="12.5" font-weight="bold" font-family="Liberation Sans" textLength="45" lengthAdjust="spacingAndGlyphs">3268.02</text>
<text x="751" y="58" fill="#ee5060" font-size="12.5" font-weight="bold" font-family="Liberation Sans" textLength="45" lengthAdjust="spacingAndGlyphs">4381.29</text>
<text x="1051" y="93" fill="#ee5060" font-size="12.5" font-weight="bold" font-family="Liberation Sans" textLength="45" lengthAdjust="spacingAndGlyphs">4264.43</text>
<text x="92" y="467" fill="#f4f4f4" font-size="12.5" font-family="Liberation Sans" textLength="86" lengthAdjust="spacingAndGlyphs">MACD(26,12,9)</text>
<text x="182.4" y="467" fill="#f4f4f4" font-size="12.5" font-family="Liberation Sans" textLength="58.5" lengthAdjust="spacingAndGlyphs">DIFF:49.84</text>
<text x="248.8" y="467" fill="#d8d820" font-size="12.5" font-family="Liberation Sans" textLength="57.7" lengthAdjust="spacingAndGlyphs">DEA:44.13</text>
<text x="315" y="467" fill="#e020e0" font-size="12.5" font-family="Liberation Sans" textLength="70.5" lengthAdjust="spacingAndGlyphs">MACD:11.43</text>
<text x="92" y="619" fill="#f4f4f4" font-size="12.5" font-family="Liberation Sans" textLength="57" lengthAdjust="spacingAndGlyphs">KDJ(9,3,3)</text>
<text x="153" y="619" fill="#f4f4f4" font-size="12.5" font-family="Liberation Sans" textLength="42" lengthAdjust="spacingAndGlyphs">K:76.25</text>
<text x="203" y="619" fill="#d8d820" font-size="12.5" font-family="Liberation Sans" textLength="43" lengthAdjust="spacingAndGlyphs">D:74.80</text>
<text x="254.2" y="619" fill="#e020e0" font-size="12.5" font-family="Liberation Sans" textLength="39" lengthAdjust="spacingAndGlyphs">J:79.14</text>
<circle cx="29" cy="612" r="4.1" fill="#000"/><circle cx="29" cy="612" r="3.1" fill="#fff"/><circle cx="29" cy="612" r="1.9" fill="#f00"/>
<g fill="#f00" shape-rendering="crispEdges">
<rect x="28" y="605" width="1" height="2" fill="#f00"/>
<rect x="28" y="617" width="1" height="2" fill="#f00"/>
<rect x="22" y="611" width="2" height="1" fill="#f00"/>
<rect x="34" y="611" width="2" height="1" fill="#f00"/>
<rect x="23" y="606" width="1" height="1" fill="#f00"/>
<rect x="24" y="607" width="1" height="1" fill="#f00"/>
<rect x="34" y="606" width="1" height="1" fill="#f00"/>
<rect x="33" y="607" width="1" height="1" fill="#f00"/>
<rect x="24" y="616" width="1" height="1" fill="#f00"/>
<rect x="23" y="617" width="1" height="1" fill="#f00"/>
<rect x="33" y="616" width="1" height="1" fill="#f00"/>
<rect x="34" y="617" width="1" height="1" fill="#f00"/>
</g>
<text x="188" y="748.5" fill="#fff" font-size="12.5" font-weight="bold" font-family="Liberation Sans" textLength="45" lengthAdjust="spacingAndGlyphs">2025/08</text>
<text x="398" y="748.5" fill="#fff" font-size="12.5" font-weight="bold" font-family="Liberation Sans" textLength="45" lengthAdjust="spacingAndGlyphs">2025/09</text>
<text x="618" y="748.5" fill="#fff" font-size="12.5" font-weight="bold" font-family="Liberation Sans" textLength="45" lengthAdjust="spacingAndGlyphs">2025/10</text>
<text x="848" y="748.5" fill="#fff" font-size="12.5" font-weight="bold" font-family="Liberation Sans" textLength="45" lengthAdjust="spacingAndGlyphs">2025/11</text>
<text x="1048" y="748.5" fill="#fff" font-size="12.5" font-weight="bold" font-family="Liberation Sans" textLength="45" lengthAdjust="spacingAndGlyphs">2025/12</text>
<rect x="969" y="736" width="109" height="16" fill="#000"/>
<text x="970.5" y="748" fill="#f0902a" font-size="12.5" font-family="Liberation Sans" textLength="65.5" lengthAdjust="spacingAndGlyphs">2025/12/04</text>
<text x="1040.5 1052.5 1064.5" y="747.56" fill="#f0902a" font-size="12" font-family="&quot;Liberation Sans&quot;, &quot;Noto Sans CJK SC&quot;, sans-serif">星期四</text>
<text x="33.7 46.7" y="751.04" fill="#ff6a00" font-size="13" font-weight="bold" font-family="&quot;Liberation Sans&quot;, &quot;Noto Sans CJK SC&quot;, sans-serif">日线</text>
<path d="M64.5 750.5 L69 742 L73.5 750.5Z" fill="#ff6a00"/>
<text x="1046.1 1068.3 1089.7 1109.9 1129.3" y="746" fill="#e6ecf6" stroke="#1a1a1a" stroke-width="0.55" font-size="31" font-family="Liberation Sans">FX678</text>
<rect x="21" y="755" width="384" height="16" fill="#000"/>
<rect x="60" y="755" width="39" height="16" fill="#ff6a00"/>
<rect x="238" y="755" width="39" height="16" fill="#ff6a00"/>
<text x="28 40" y="767.56" fill="#fff" font-size="12" font-family="&quot;Liberation Sans&quot;, &quot;Noto Sans CJK SC&quot;, sans-serif">指标</text>
<text x="67.5 79.5" y="767.56" fill="#fff" font-size="12" font-family="&quot;Liberation Sans&quot;, &quot;Noto Sans CJK SC&quot;, sans-serif">模板</text>
<text x="108" y="767.5" fill="#ff6a00" font-size="12" font-family="Liberation Serif" textLength="18" lengthAdjust="spacingAndGlyphs">VIP</text>
<text x="126 138" y="767.56" fill="#ff6a00" font-size="12" font-family="&quot;Liberation Sans&quot;, &quot;Noto Sans CJK SC&quot;, sans-serif">指标</text>
<text x="165.5 177.5" y="767.56" fill="#d0d0d0" font-size="12" font-family="&quot;Liberation Sans&quot;, &quot;Noto Sans CJK SC&quot;, sans-serif">标准</text>
<text x="205.7" y="767.5" fill="#d0d0d0" font-size="12" font-family="Liberation Serif" textLength="24" lengthAdjust="spacingAndGlyphs">BULL</text>
<text x="246" y="767.5" fill="#fff" font-size="12" font-family="Liberation Serif" textLength="24" lengthAdjust="spacingAndGlyphs">MACD</text>
<text x="286 298 310 322" y="767.56" fill="#d0d0d0" font-size="12" font-family="&quot;Liberation Sans&quot;, &quot;Noto Sans CJK SC&quot;, sans-serif">另存模板</text>
<text x="349.5 361.5 373.5 385.5" y="767.56" fill="#d0d0d0" font-size="12" font-family="&quot;Liberation Sans&quot;, &quot;Noto Sans CJK SC&quot;, sans-serif">管理模板</text>
<rect x="157" y="755" width="1" height="16" fill="#2a2a2a"/>
<rect x="197" y="755" width="1" height="16" fill="#2a2a2a"/>
<rect x="341" y="755" width="1" height="16" fill="#2a2a2a"/>
<rect x="404" y="755" width="1" height="16" fill="#2a2a2a"/>
</svg>
</body></html>
